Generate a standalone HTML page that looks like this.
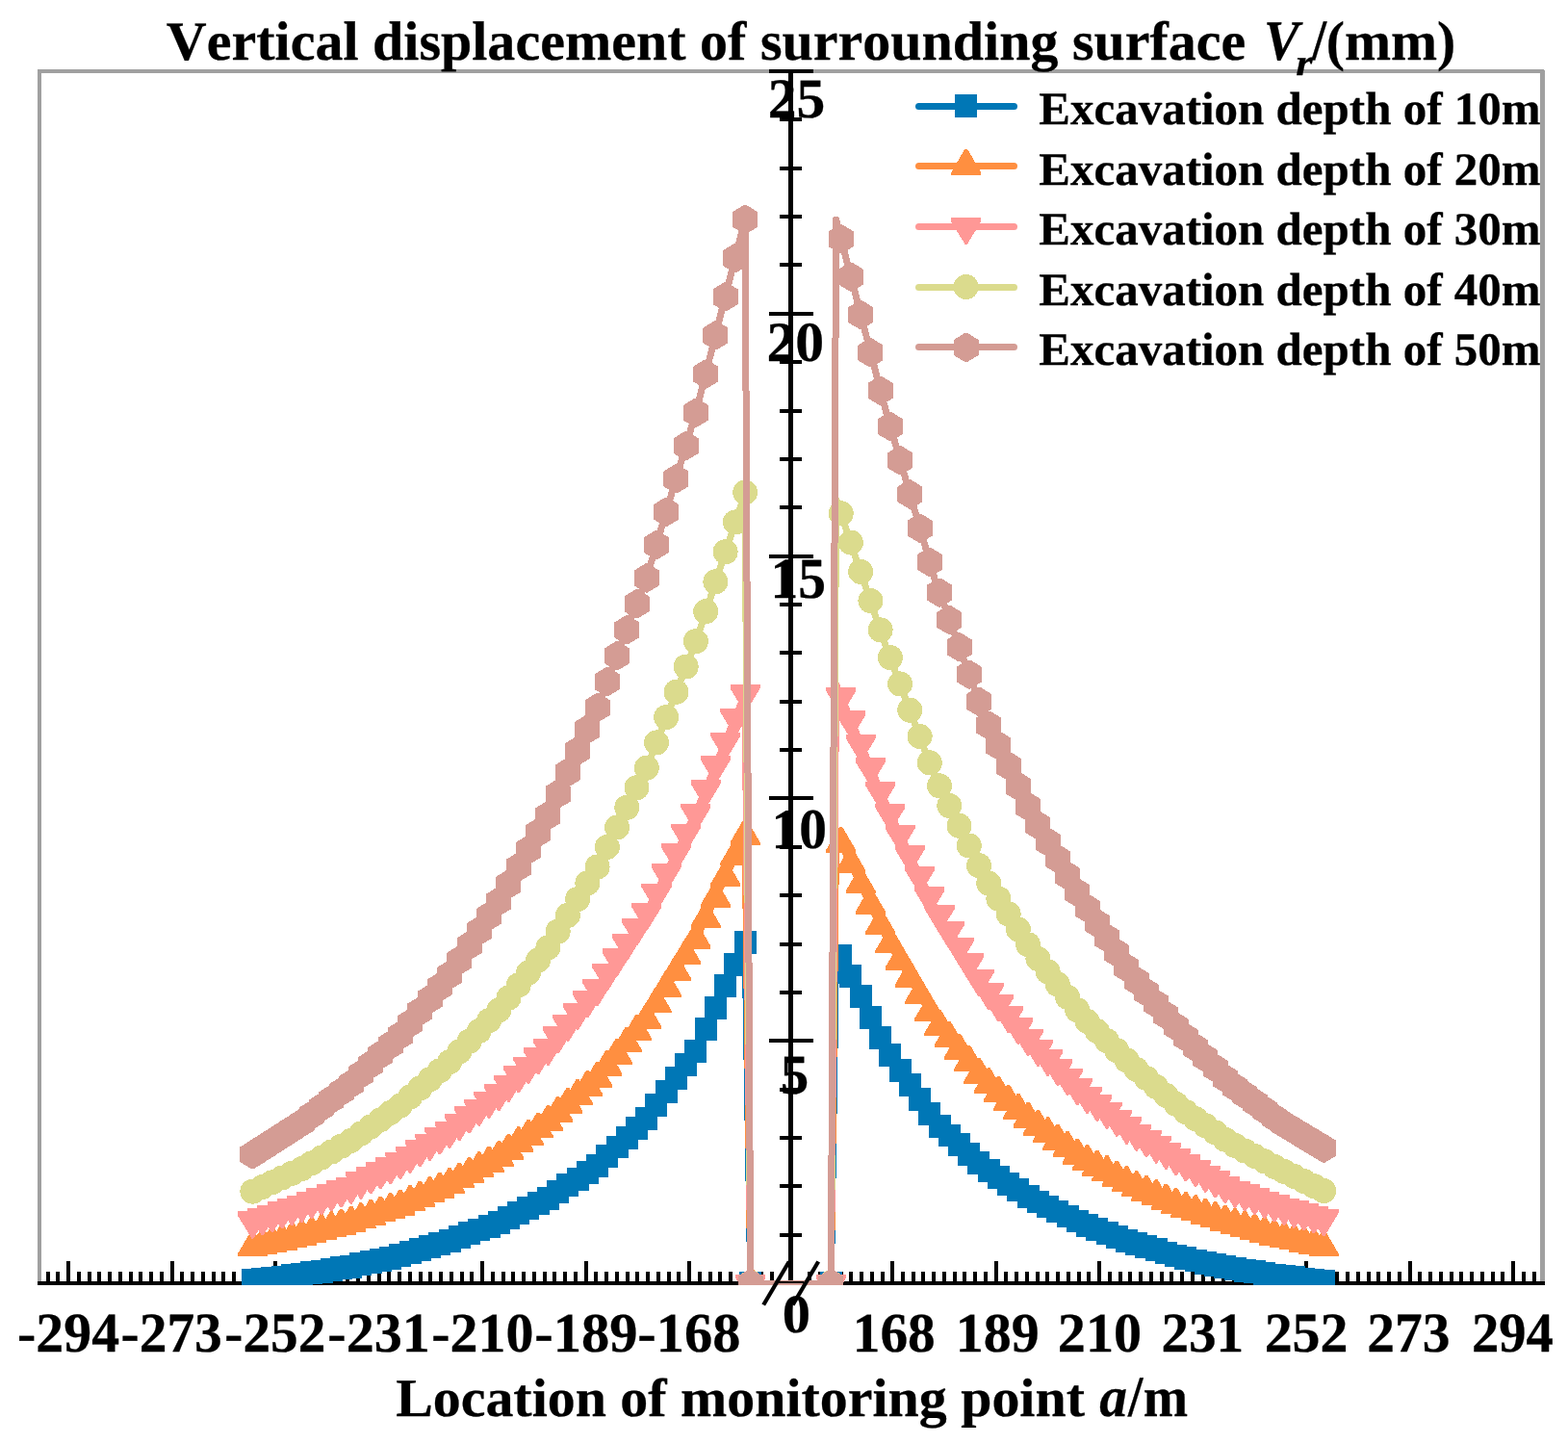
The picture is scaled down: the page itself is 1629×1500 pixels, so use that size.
<!DOCTYPE html>
<html lang="en"><head><meta charset="utf-8"><title>Vertical displacement of surrounding surface</title>
<style>html,body{margin:0;padding:0;background:#fff}body{width:1629px;height:1500px;overflow:hidden}svg{display:block}</style></head>
<body>
<svg width="1629" height="1500" viewBox="0 0 1629 1500" font-family="'Liberation Serif', 'Times New Roman', serif" shape-rendering="crispEdges">
<rect x="0" y="0" width="1629" height="1500" fill="#fff"/>
<g fill="#A0A0A0"><rect x="39" y="72" width="4" height="1262"/><rect x="39" y="72" width="1565" height="4"/><rect x="1600" y="73" width="5" height="1261"/></g>
<g fill="#000"><rect x="39" y="1331" width="770.5" height="4"/><rect x="835" y="1331" width="770" height="4"/><rect x="47.6" y="1321" width="4" height="11"/><rect x="58.3" y="1321" width="4" height="11"/><rect x="69.1" y="1310" width="4" height="22"/><rect x="79.8" y="1321" width="4" height="11"/><rect x="90.6" y="1321" width="4" height="11"/><rect x="101.3" y="1321" width="4" height="11"/><rect x="112.1" y="1321" width="4" height="11"/><rect x="122.8" y="1321" width="4" height="11"/><rect x="133.6" y="1321" width="4" height="11"/><rect x="144.3" y="1321" width="4" height="11"/><rect x="155.1" y="1321" width="4" height="11"/><rect x="165.8" y="1321" width="4" height="11"/><rect x="176.6" y="1310" width="4" height="22"/><rect x="187.3" y="1321" width="4" height="11"/><rect x="198.1" y="1321" width="4" height="11"/><rect x="208.8" y="1321" width="4" height="11"/><rect x="219.6" y="1321" width="4" height="11"/><rect x="230.3" y="1321" width="4" height="11"/><rect x="241.1" y="1321" width="4" height="11"/><rect x="251.8" y="1321" width="4" height="11"/><rect x="262.5" y="1321" width="4" height="11"/><rect x="273.3" y="1321" width="4" height="11"/><rect x="284.0" y="1310" width="4" height="22"/><rect x="294.8" y="1321" width="4" height="11"/><rect x="305.5" y="1321" width="4" height="11"/><rect x="316.3" y="1321" width="4" height="11"/><rect x="327.0" y="1321" width="4" height="11"/><rect x="337.8" y="1321" width="4" height="11"/><rect x="348.5" y="1321" width="4" height="11"/><rect x="359.3" y="1321" width="4" height="11"/><rect x="370.0" y="1321" width="4" height="11"/><rect x="380.8" y="1321" width="4" height="11"/><rect x="391.5" y="1310" width="4" height="22"/><rect x="402.3" y="1321" width="4" height="11"/><rect x="413.0" y="1321" width="4" height="11"/><rect x="423.8" y="1321" width="4" height="11"/><rect x="434.5" y="1321" width="4" height="11"/><rect x="445.3" y="1321" width="4" height="11"/><rect x="456.0" y="1321" width="4" height="11"/><rect x="466.8" y="1321" width="4" height="11"/><rect x="477.5" y="1321" width="4" height="11"/><rect x="488.3" y="1321" width="4" height="11"/><rect x="499.0" y="1310" width="4" height="22"/><rect x="509.8" y="1321" width="4" height="11"/><rect x="520.5" y="1321" width="4" height="11"/><rect x="531.3" y="1321" width="4" height="11"/><rect x="542.0" y="1321" width="4" height="11"/><rect x="552.8" y="1321" width="4" height="11"/><rect x="563.5" y="1321" width="4" height="11"/><rect x="574.3" y="1321" width="4" height="11"/><rect x="585.0" y="1321" width="4" height="11"/><rect x="595.8" y="1321" width="4" height="11"/><rect x="606.5" y="1310" width="4" height="22"/><rect x="617.3" y="1321" width="4" height="11"/><rect x="628.0" y="1321" width="4" height="11"/><rect x="638.8" y="1321" width="4" height="11"/><rect x="649.5" y="1321" width="4" height="11"/><rect x="660.3" y="1321" width="4" height="11"/><rect x="671.0" y="1321" width="4" height="11"/><rect x="681.8" y="1321" width="4" height="11"/><rect x="692.5" y="1321" width="4" height="11"/><rect x="703.3" y="1321" width="4" height="11"/><rect x="714.0" y="1310" width="4" height="22"/><rect x="724.7" y="1321" width="4" height="11"/><rect x="735.5" y="1321" width="4" height="11"/><rect x="746.2" y="1321" width="4" height="11"/><rect x="757.0" y="1321" width="4" height="11"/><rect x="767.7" y="1321" width="4" height="11"/><rect x="778.5" y="1321" width="4" height="11"/><rect x="789.2" y="1321" width="4" height="11"/><rect x="800.0" y="1321" width="4" height="11"/><rect x="1591.6" y="1321" width="4" height="11"/><rect x="1580.9" y="1321" width="4" height="11"/><rect x="1570.1" y="1310" width="4" height="22"/><rect x="1559.4" y="1321" width="4" height="11"/><rect x="1548.6" y="1321" width="4" height="11"/><rect x="1537.9" y="1321" width="4" height="11"/><rect x="1527.1" y="1321" width="4" height="11"/><rect x="1516.4" y="1321" width="4" height="11"/><rect x="1505.6" y="1321" width="4" height="11"/><rect x="1494.9" y="1321" width="4" height="11"/><rect x="1484.1" y="1321" width="4" height="11"/><rect x="1473.4" y="1321" width="4" height="11"/><rect x="1462.6" y="1310" width="4" height="22"/><rect x="1451.9" y="1321" width="4" height="11"/><rect x="1441.1" y="1321" width="4" height="11"/><rect x="1430.4" y="1321" width="4" height="11"/><rect x="1419.6" y="1321" width="4" height="11"/><rect x="1408.9" y="1321" width="4" height="11"/><rect x="1398.1" y="1321" width="4" height="11"/><rect x="1387.4" y="1321" width="4" height="11"/><rect x="1376.7" y="1321" width="4" height="11"/><rect x="1365.9" y="1321" width="4" height="11"/><rect x="1355.2" y="1310" width="4" height="22"/><rect x="1344.4" y="1321" width="4" height="11"/><rect x="1333.7" y="1321" width="4" height="11"/><rect x="1322.9" y="1321" width="4" height="11"/><rect x="1312.2" y="1321" width="4" height="11"/><rect x="1301.4" y="1321" width="4" height="11"/><rect x="1290.7" y="1321" width="4" height="11"/><rect x="1279.9" y="1321" width="4" height="11"/><rect x="1269.2" y="1321" width="4" height="11"/><rect x="1258.4" y="1321" width="4" height="11"/><rect x="1247.7" y="1310" width="4" height="22"/><rect x="1236.9" y="1321" width="4" height="11"/><rect x="1226.2" y="1321" width="4" height="11"/><rect x="1215.4" y="1321" width="4" height="11"/><rect x="1204.7" y="1321" width="4" height="11"/><rect x="1193.9" y="1321" width="4" height="11"/><rect x="1183.2" y="1321" width="4" height="11"/><rect x="1172.4" y="1321" width="4" height="11"/><rect x="1161.7" y="1321" width="4" height="11"/><rect x="1150.9" y="1321" width="4" height="11"/><rect x="1140.2" y="1310" width="4" height="22"/><rect x="1129.4" y="1321" width="4" height="11"/><rect x="1118.7" y="1321" width="4" height="11"/><rect x="1107.9" y="1321" width="4" height="11"/><rect x="1097.2" y="1321" width="4" height="11"/><rect x="1086.4" y="1321" width="4" height="11"/><rect x="1075.7" y="1321" width="4" height="11"/><rect x="1064.9" y="1321" width="4" height="11"/><rect x="1054.2" y="1321" width="4" height="11"/><rect x="1043.4" y="1321" width="4" height="11"/><rect x="1032.7" y="1310" width="4" height="22"/><rect x="1021.9" y="1321" width="4" height="11"/><rect x="1011.2" y="1321" width="4" height="11"/><rect x="1000.4" y="1321" width="4" height="11"/><rect x="989.7" y="1321" width="4" height="11"/><rect x="978.9" y="1321" width="4" height="11"/><rect x="968.2" y="1321" width="4" height="11"/><rect x="957.4" y="1321" width="4" height="11"/><rect x="946.7" y="1321" width="4" height="11"/><rect x="935.9" y="1321" width="4" height="11"/><rect x="925.2" y="1310" width="4" height="22"/><rect x="914.5" y="1321" width="4" height="11"/><rect x="903.7" y="1321" width="4" height="11"/><rect x="893.0" y="1321" width="4" height="11"/><rect x="882.2" y="1321" width="4" height="11"/><rect x="871.5" y="1321" width="4" height="11"/><rect x="860.7" y="1321" width="4" height="11"/><rect x="850.0" y="1321" width="4" height="11"/><rect x="839.2" y="1321" width="4" height="11"/><rect x="819.4" y="72" width="4.6" height="1262"/><rect x="798.7" y="1331.0" width="46" height="4"/><rect x="810.2" y="1280.6" width="23" height="4"/><rect x="810.2" y="1230.3" width="23" height="4"/><rect x="810.2" y="1179.9" width="23" height="4"/><rect x="810.2" y="1129.6" width="23" height="4"/><rect x="798.7" y="1079.2" width="46" height="4"/><rect x="810.2" y="1028.8" width="23" height="4"/><rect x="810.2" y="978.5" width="23" height="4"/><rect x="810.2" y="928.1" width="23" height="4"/><rect x="810.2" y="877.8" width="23" height="4"/><rect x="798.7" y="827.4" width="46" height="4"/><rect x="810.2" y="777.0" width="23" height="4"/><rect x="810.2" y="726.7" width="23" height="4"/><rect x="810.2" y="676.3" width="23" height="4"/><rect x="810.2" y="626.0" width="23" height="4"/><rect x="798.7" y="575.6" width="46" height="4"/><rect x="810.2" y="525.2" width="23" height="4"/><rect x="810.2" y="474.9" width="23" height="4"/><rect x="810.2" y="424.5" width="23" height="4"/><rect x="810.2" y="374.2" width="23" height="4"/><rect x="798.7" y="323.8" width="46" height="4"/><rect x="810.2" y="273.4" width="23" height="4"/><rect x="810.2" y="223.1" width="23" height="4"/><rect x="810.2" y="172.7" width="23" height="4"/><rect x="810.2" y="122.4" width="23" height="4"/><rect x="798.7" y="72.0" width="46" height="4"/></g>
<svg x="39" y="72" width="1566" height="1263" viewBox="39 72 1566 1263" overflow="hidden">
<g fill="#0077B6">
<polyline points="262.4,1331.0 272.6,1329.7 282.9,1328.4 293.1,1327.1 303.3,1325.9 313.6,1324.6 323.8,1322.9 334.0,1321.2 344.3,1319.5 354.5,1317.8 364.7,1316.1 375.0,1313.9 385.2,1311.6 395.4,1309.4 405.7,1307.1 415.9,1304.9 426.1,1301.8 436.4,1298.7 446.6,1295.7 456.8,1292.6 467.1,1289.5 477.3,1285.7 487.5,1281.9 497.8,1278.0 508.0,1274.2 518.2,1270.4 528.5,1265.4 538.7,1260.4 549.0,1255.4 559.2,1250.4 569.4,1245.4 579.7,1238.7 589.9,1231.9 600.1,1225.2 610.4,1218.4 620.6,1211.7 630.8,1201.9 641.1,1192.1 651.3,1182.2 661.5,1172.4 671.8,1162.6 682.0,1148.5 692.2,1134.4 702.5,1120.4 712.7,1106.3 722.9,1092.2 733.2,1069.7 743.4,1047.2 753.6,1024.6 763.9,1002.1 774.1,979.6 779.7,1333.0 863.4,1333.0 868.6,982.6 873.7,993.3 883.9,1014.6 894.2,1035.9 904.4,1057.2 914.6,1078.5 919.8,1089.2 924.9,1096.8 935.1,1112.1 945.3,1127.4 955.6,1142.7 965.8,1158.0 970.9,1165.6 976.0,1170.4 986.3,1180.0 996.5,1189.7 1006.7,1199.3 1017.0,1208.9 1022.1,1213.7 1027.2,1217.0 1037.4,1223.5 1047.7,1230.1 1057.9,1236.7 1068.1,1243.2 1073.3,1246.5 1078.4,1249.0 1088.6,1254.0 1098.8,1259.0 1109.1,1264.1 1119.3,1269.1 1124.4,1271.6 1129.5,1273.6 1139.8,1277.5 1150.0,1281.4 1160.3,1285.4 1170.5,1289.3 1175.6,1291.3 1180.7,1292.8 1191.0,1295.9 1201.2,1298.9 1211.4,1302.0 1221.7,1305.1 1226.8,1306.6 1231.9,1307.7 1242.1,1310.0 1252.4,1312.3 1262.6,1314.6 1272.8,1316.9 1277.9,1318.0 1283.1,1318.8 1293.3,1320.4 1303.5,1322.0 1313.8,1323.5 1324.0,1325.1 1329.1,1325.9 1334.2,1326.5 1344.5,1327.8 1354.7,1329.1 1364.9,1330.3 1375.2,1331.6 1380.3,1332.2" fill="none" stroke="#0077B6" stroke-width="7" stroke-linejoin="round"/>
<path d="M250.90 1318.45L273.90 1318.45L273.90 1342.35L250.90 1342.35zM261.13 1317.18L284.13 1317.18L284.13 1341.08L261.13 1341.08zM271.37 1315.91L294.37 1315.91L294.37 1339.81L271.37 1339.81zM281.60 1314.64L304.60 1314.64L304.60 1338.54L281.60 1338.54zM291.84 1313.37L314.84 1313.37L314.84 1337.27L291.84 1337.27zM302.07 1312.10L325.07 1312.10L325.07 1336.00L302.07 1336.00zM312.30 1310.40L335.30 1310.40L335.30 1334.30L312.30 1334.30zM322.54 1308.70L345.54 1308.70L345.54 1332.60L322.54 1332.60zM332.77 1307.00L355.77 1307.00L355.77 1330.90L332.77 1330.90zM343.01 1305.30L366.01 1305.30L366.01 1329.20L343.01 1329.20zM353.24 1303.60L376.24 1303.60L376.24 1327.50L353.24 1327.50zM363.47 1301.36L386.47 1301.36L386.47 1325.26L363.47 1325.26zM373.71 1299.12L396.71 1299.12L396.71 1323.02L373.71 1323.02zM383.94 1296.88L406.94 1296.88L406.94 1320.78L383.94 1320.78zM394.18 1294.64L417.18 1294.64L417.18 1318.54L394.18 1318.54zM404.41 1292.40L427.41 1292.40L427.41 1316.30L404.41 1316.30zM414.64 1289.32L437.64 1289.32L437.64 1313.22L414.64 1313.22zM424.88 1286.24L447.88 1286.24L447.88 1310.14L424.88 1310.14zM435.11 1283.16L458.11 1283.16L458.11 1307.06L435.11 1307.06zM445.35 1280.08L468.35 1280.08L468.35 1303.98L445.35 1303.98zM455.58 1277.00L478.58 1277.00L478.58 1300.90L455.58 1300.90zM465.81 1273.18L488.81 1273.18L488.81 1297.08L465.81 1297.08zM476.05 1269.36L499.05 1269.36L499.05 1293.26L476.05 1293.26zM486.28 1265.54L509.28 1265.54L509.28 1289.44L486.28 1289.44zM496.52 1261.72L519.52 1261.72L519.52 1285.62L496.52 1285.62zM506.75 1257.90L529.75 1257.90L529.75 1281.80L506.75 1281.80zM516.98 1252.90L539.98 1252.90L539.98 1276.80L516.98 1276.80zM527.22 1247.90L550.22 1247.90L550.22 1271.80L527.22 1271.80zM537.45 1242.90L560.45 1242.90L560.45 1266.80L537.45 1266.80zM547.69 1237.90L570.69 1237.90L570.69 1261.80L547.69 1261.80zM557.92 1232.90L580.92 1232.90L580.92 1256.80L557.92 1256.80zM568.15 1226.16L591.15 1226.16L591.15 1250.06L568.15 1250.06zM578.39 1219.42L601.39 1219.42L601.39 1243.32L578.39 1243.32zM588.62 1212.68L611.62 1212.68L611.62 1236.58L588.62 1236.58zM598.86 1205.94L621.86 1205.94L621.86 1229.84L598.86 1229.84zM609.09 1199.20L632.09 1199.20L632.09 1223.10L609.09 1223.10zM619.32 1189.38L642.32 1189.38L642.32 1213.28L619.32 1213.28zM629.56 1179.56L652.56 1179.56L652.56 1203.46L629.56 1203.46zM639.79 1169.74L662.79 1169.74L662.79 1193.64L639.79 1193.64zM650.03 1159.92L673.03 1159.92L673.03 1183.82L650.03 1183.82zM660.26 1150.10L683.26 1150.10L683.26 1174.00L660.26 1174.00zM670.49 1136.02L693.49 1136.02L693.49 1159.92L670.49 1159.92zM680.73 1121.94L703.73 1121.94L703.73 1145.84L680.73 1145.84zM690.96 1107.86L713.96 1107.86L713.96 1131.76L690.96 1131.76zM701.20 1093.78L724.20 1093.78L724.20 1117.68L701.20 1117.68zM711.43 1079.70L734.43 1079.70L734.43 1103.60L711.43 1103.60zM721.66 1057.18L744.66 1057.18L744.66 1081.08L721.66 1081.08zM731.90 1034.66L754.90 1034.66L754.90 1058.56L731.90 1058.56zM742.13 1012.14L765.13 1012.14L765.13 1036.04L742.13 1036.04zM752.37 989.62L775.37 989.62L775.37 1013.52L752.37 1013.52zM762.60 967.10L785.60 967.10L785.60 991.00L762.60 991.00zM768.20 1320.50L791.20 1320.50L791.20 1344.40L768.20 1344.40zM851.90 1320.50L874.90 1320.50L874.90 1344.40L851.90 1344.40zM862.20 980.76L885.20 980.76L885.20 1004.66L862.20 1004.66zM872.43 1002.08L895.43 1002.08L895.43 1025.98L872.43 1025.98zM882.67 1023.40L905.67 1023.40L905.67 1047.30L882.67 1047.30zM892.90 1044.72L915.90 1044.72L915.90 1068.62L892.90 1068.62zM903.14 1066.04L926.14 1066.04L926.14 1089.94L903.14 1089.94zM913.37 1084.34L936.37 1084.34L936.37 1108.24L913.37 1108.24zM923.60 1099.62L946.60 1099.62L946.60 1123.52L923.60 1123.52zM933.84 1114.90L956.84 1114.90L956.84 1138.80L933.84 1138.80zM944.07 1130.18L967.07 1130.18L967.07 1154.08L944.07 1154.08zM954.31 1145.46L977.31 1145.46L977.31 1169.36L954.31 1169.36zM964.54 1157.91L987.54 1157.91L987.54 1181.81L964.54 1181.81zM974.77 1167.53L997.77 1167.53L997.77 1191.43L974.77 1191.43zM985.01 1177.15L1008.01 1177.15L1008.01 1201.05L985.01 1201.05zM995.24 1186.77L1018.24 1186.77L1018.24 1210.67L995.24 1210.67zM1005.48 1196.39L1028.48 1196.39L1028.48 1220.29L1005.48 1220.29zM1015.71 1204.48L1038.71 1204.48L1038.71 1228.38L1015.71 1228.38zM1025.94 1211.04L1048.94 1211.04L1048.94 1234.94L1025.94 1234.94zM1036.18 1217.60L1059.18 1217.60L1059.18 1241.50L1036.18 1241.50zM1046.41 1224.16L1069.41 1224.16L1069.41 1248.06L1046.41 1248.06zM1056.65 1230.72L1079.65 1230.72L1079.65 1254.62L1056.65 1254.62zM1066.88 1236.51L1089.88 1236.51L1089.88 1260.41L1066.88 1260.41zM1077.11 1241.53L1100.11 1241.53L1100.11 1265.43L1077.11 1265.43zM1087.35 1246.55L1110.35 1246.55L1110.35 1270.45L1087.35 1270.45zM1097.58 1251.57L1120.58 1251.57L1120.58 1275.47L1097.58 1275.47zM1107.82 1256.59L1130.82 1256.59L1130.82 1280.49L1107.82 1280.49zM1118.05 1261.07L1141.05 1261.07L1141.05 1284.97L1118.05 1284.97zM1128.28 1265.01L1151.28 1265.01L1151.28 1288.91L1128.28 1288.91zM1138.52 1268.95L1161.52 1268.95L1161.52 1292.85L1138.52 1292.85zM1148.75 1272.89L1171.75 1272.89L1171.75 1296.79L1148.75 1296.79zM1158.99 1276.83L1181.99 1276.83L1181.99 1300.73L1158.99 1300.73zM1169.22 1280.33L1192.22 1280.33L1192.22 1304.23L1169.22 1304.23zM1179.45 1283.39L1202.45 1283.39L1202.45 1307.29L1179.45 1307.29zM1189.69 1286.45L1212.69 1286.45L1212.69 1310.35L1189.69 1310.35zM1199.92 1289.51L1222.92 1289.51L1222.92 1313.41L1199.92 1313.41zM1210.16 1292.57L1233.16 1292.57L1233.16 1316.47L1210.16 1316.47zM1220.39 1295.24L1243.39 1295.24L1243.39 1319.14L1220.39 1319.14zM1230.62 1297.52L1253.62 1297.52L1253.62 1321.42L1230.62 1321.42zM1240.86 1299.80L1263.86 1299.80L1263.86 1323.70L1240.86 1323.70zM1251.09 1302.08L1274.09 1302.08L1274.09 1325.98L1251.09 1325.98zM1261.33 1304.36L1284.33 1304.36L1284.33 1328.26L1261.33 1328.26zM1271.56 1306.29L1294.56 1306.29L1294.56 1330.19L1271.56 1330.19zM1281.79 1307.87L1304.79 1307.87L1304.79 1331.77L1281.79 1331.77zM1292.03 1309.45L1315.03 1309.45L1315.03 1333.35L1292.03 1333.35zM1302.26 1311.03L1325.26 1311.03L1325.26 1334.93L1302.26 1334.93zM1312.50 1312.61L1335.50 1312.61L1335.50 1336.51L1312.50 1336.51zM1322.73 1314.03L1345.73 1314.03L1345.73 1337.93L1322.73 1337.93zM1332.96 1315.29L1355.96 1315.29L1355.96 1339.19L1332.96 1339.19zM1343.20 1316.55L1366.20 1316.55L1366.20 1340.45L1343.20 1340.45zM1353.43 1317.81L1376.43 1317.81L1376.43 1341.71L1353.43 1341.71zM1363.67 1319.07L1386.67 1319.07L1386.67 1342.97L1363.67 1342.97z"/>
</g>
<g fill="#FF8F40">
<polyline points="262.4,1296.0 272.6,1293.7 282.9,1291.4 293.1,1289.2 303.3,1286.9 313.6,1284.6 323.8,1281.8 334.0,1278.9 344.3,1276.1 354.5,1273.2 364.7,1270.4 375.0,1267.0 385.2,1263.6 395.4,1260.1 405.7,1256.7 415.9,1253.3 426.1,1248.8 436.4,1244.3 446.6,1239.7 456.8,1235.2 467.1,1230.7 477.3,1225.1 487.5,1219.5 497.8,1213.9 508.0,1208.3 518.2,1202.7 528.5,1195.3 538.7,1187.9 549.0,1180.5 559.2,1173.1 569.4,1165.7 579.7,1156.7 589.9,1147.7 600.1,1138.6 610.4,1129.6 620.6,1120.6 630.8,1108.4 641.1,1096.3 651.3,1084.1 661.5,1072.0 671.8,1059.8 682.0,1043.1 692.2,1026.4 702.5,1009.8 712.7,993.1 722.9,976.4 733.2,954.8 743.4,933.2 753.6,911.6 763.9,890.0 774.1,868.4 779.7,1333.0 863.4,1333.0 868.6,865.9 873.7,876.5 883.9,897.8 894.2,919.1 904.4,940.3 914.6,961.6 919.8,972.2 924.9,981.0 935.1,998.6 945.3,1016.2 955.6,1033.8 965.8,1051.4 970.9,1060.2 976.0,1066.4 986.3,1078.9 996.5,1091.3 1006.7,1103.8 1017.0,1116.3 1022.1,1122.5 1027.2,1126.9 1037.4,1135.8 1047.7,1144.7 1057.9,1153.6 1068.1,1162.5 1073.3,1166.9 1078.4,1170.6 1088.6,1178.0 1098.8,1185.4 1109.1,1192.9 1119.3,1200.3 1124.4,1204.0 1129.5,1206.8 1139.8,1212.3 1150.0,1217.9 1160.3,1223.5 1170.5,1229.0 1175.6,1231.8 1180.7,1234.0 1191.0,1238.4 1201.2,1242.8 1211.4,1247.3 1221.7,1251.7 1226.8,1253.9 1231.9,1255.6 1242.1,1259.0 1252.4,1262.4 1262.6,1265.8 1272.8,1269.2 1277.9,1270.9 1283.1,1272.4 1293.3,1275.4 1303.5,1278.3 1313.8,1281.3 1324.0,1284.3 1329.1,1285.8 1334.2,1286.9 1344.5,1289.1 1354.7,1291.3 1364.9,1293.6 1375.2,1295.8 1380.3,1296.9" fill="none" stroke="#FF8F40" stroke-width="7" stroke-linejoin="round"/>
<path d="M260.95 1278.40L263.85 1278.40L277.95 1302.55L277.95 1305.35L246.85 1305.35L246.85 1302.55zM271.18 1276.12L274.08 1276.12L288.18 1300.27L288.18 1303.07L257.08 1303.07L257.08 1300.27zM281.42 1273.84L284.32 1273.84L298.42 1297.99L298.42 1300.79L267.32 1300.79L267.32 1297.99zM291.65 1271.56L294.55 1271.56L308.65 1295.71L308.65 1298.51L277.55 1298.51L277.55 1295.71zM301.89 1269.28L304.79 1269.28L318.89 1293.43L318.89 1296.23L287.79 1296.23L287.79 1293.43zM312.12 1267.00L315.02 1267.00L329.12 1291.15L329.12 1293.95L298.02 1293.95L298.02 1291.15zM322.35 1264.16L325.25 1264.16L339.35 1288.31L339.35 1291.11L308.25 1291.11L308.25 1288.31zM332.59 1261.32L335.49 1261.32L349.59 1285.47L349.59 1288.27L318.49 1288.27L318.49 1285.47zM342.82 1258.48L345.72 1258.48L359.82 1282.63L359.82 1285.43L328.72 1285.43L328.72 1282.63zM353.06 1255.64L355.96 1255.64L370.06 1279.79L370.06 1282.59L338.96 1282.59L338.96 1279.79zM363.29 1252.80L366.19 1252.80L380.29 1276.95L380.29 1279.75L349.19 1279.75L349.19 1276.95zM373.52 1249.38L376.42 1249.38L390.52 1273.53L390.52 1276.33L359.42 1276.33L359.42 1273.53zM383.76 1245.96L386.66 1245.96L400.76 1270.11L400.76 1272.91L369.66 1272.91L369.66 1270.11zM393.99 1242.54L396.89 1242.54L410.99 1266.69L410.99 1269.49L379.89 1269.49L379.89 1266.69zM404.23 1239.12L407.13 1239.12L421.23 1263.27L421.23 1266.07L390.13 1266.07L390.13 1263.27zM414.46 1235.70L417.36 1235.70L431.46 1259.85L431.46 1262.65L400.36 1262.65L400.36 1259.85zM424.69 1231.18L427.59 1231.18L441.69 1255.33L441.69 1258.13L410.59 1258.13L410.59 1255.33zM434.93 1226.66L437.83 1226.66L451.93 1250.81L451.93 1253.61L420.83 1253.61L420.83 1250.81zM445.16 1222.14L448.06 1222.14L462.16 1246.29L462.16 1249.09L431.06 1249.09L431.06 1246.29zM455.40 1217.62L458.30 1217.62L472.40 1241.77L472.40 1244.57L441.30 1244.57L441.30 1241.77zM465.63 1213.10L468.53 1213.10L482.63 1237.25L482.63 1240.05L451.53 1240.05L451.53 1237.25zM475.86 1207.50L478.76 1207.50L492.86 1231.65L492.86 1234.45L461.76 1234.45L461.76 1231.65zM486.10 1201.90L489.00 1201.90L503.10 1226.05L503.10 1228.85L472.00 1228.85L472.00 1226.05zM496.33 1196.30L499.23 1196.30L513.33 1220.45L513.33 1223.25L482.23 1223.25L482.23 1220.45zM506.57 1190.70L509.47 1190.70L523.57 1214.85L523.57 1217.65L492.47 1217.65L492.47 1214.85zM516.80 1185.10L519.70 1185.10L533.80 1209.25L533.80 1212.05L502.70 1212.05L502.70 1209.25zM527.03 1177.70L529.93 1177.70L544.03 1201.85L544.03 1204.65L512.93 1204.65L512.93 1201.85zM537.27 1170.30L540.17 1170.30L554.27 1194.45L554.27 1197.25L523.17 1197.25L523.17 1194.45zM547.50 1162.90L550.40 1162.90L564.50 1187.05L564.50 1189.85L533.40 1189.85L533.40 1187.05zM557.74 1155.50L560.64 1155.50L574.74 1179.65L574.74 1182.45L543.64 1182.45L543.64 1179.65zM567.97 1148.10L570.87 1148.10L584.97 1172.25L584.97 1175.05L553.87 1175.05L553.87 1172.25zM578.20 1139.08L581.10 1139.08L595.20 1163.23L595.20 1166.03L564.10 1166.03L564.10 1163.23zM588.44 1130.06L591.34 1130.06L605.44 1154.21L605.44 1157.01L574.34 1157.01L574.34 1154.21zM598.67 1121.04L601.57 1121.04L615.67 1145.19L615.67 1147.99L584.57 1147.99L584.57 1145.19zM608.91 1112.02L611.81 1112.02L625.91 1136.17L625.91 1138.97L594.81 1138.97L594.81 1136.17zM619.14 1103.00L622.04 1103.00L636.14 1127.15L636.14 1129.95L605.04 1129.95L605.04 1127.15zM629.37 1090.84L632.27 1090.84L646.37 1114.99L646.37 1117.79L615.27 1117.79L615.27 1114.99zM639.61 1078.68L642.51 1078.68L656.61 1102.83L656.61 1105.63L625.51 1105.63L625.51 1102.83zM649.84 1066.52L652.74 1066.52L666.84 1090.67L666.84 1093.47L635.74 1093.47L635.74 1090.67zM660.08 1054.36L662.98 1054.36L677.08 1078.51L677.08 1081.31L645.98 1081.31L645.98 1078.51zM670.31 1042.20L673.21 1042.20L687.31 1066.35L687.31 1069.15L656.21 1069.15L656.21 1066.35zM680.54 1025.52L683.44 1025.52L697.54 1049.67L697.54 1052.47L666.44 1052.47L666.44 1049.67zM690.78 1008.84L693.68 1008.84L707.78 1032.99L707.78 1035.79L676.68 1035.79L676.68 1032.99zM701.01 992.16L703.91 992.16L718.01 1016.31L718.01 1019.11L686.91 1019.11L686.91 1016.31zM711.25 975.48L714.15 975.48L728.25 999.63L728.25 1002.43L697.15 1002.43L697.15 999.63zM721.48 958.80L724.38 958.80L738.48 982.95L738.48 985.75L707.38 985.75L707.38 982.95zM731.71 937.20L734.61 937.20L748.71 961.35L748.71 964.15L717.61 964.15L717.61 961.35zM741.95 915.60L744.85 915.60L758.95 939.75L758.95 942.55L727.85 942.55L727.85 939.75zM752.18 894.00L755.08 894.00L769.18 918.15L769.18 920.95L738.08 920.95L738.08 918.15zM762.42 872.40L765.32 872.40L779.42 896.55L779.42 899.35L748.32 899.35L748.32 896.55zM772.65 850.80L775.55 850.80L789.65 874.95L789.65 877.75L758.55 877.75L758.55 874.95zM778.25 1315.40L781.15 1315.40L795.25 1339.55L795.25 1342.35L764.15 1342.35L764.15 1339.55zM861.95 1315.40L864.85 1315.40L878.95 1339.55L878.95 1342.35L847.85 1342.35L847.85 1339.55zM872.25 858.93L875.15 858.93L889.25 883.08L889.25 885.88L858.15 885.88L858.15 883.08zM882.48 880.19L885.38 880.19L899.48 904.34L899.48 907.14L868.38 907.14L868.38 904.34zM892.72 901.45L895.62 901.45L909.72 925.60L909.72 928.40L878.62 928.40L878.62 925.60zM902.95 922.71L905.85 922.71L919.95 946.86L919.95 949.66L888.85 949.66L888.85 946.86zM913.19 943.97L916.09 943.97L930.19 968.12L930.19 970.92L899.09 970.92L899.09 968.12zM923.42 963.40L926.32 963.40L940.42 987.55L940.42 990.35L909.32 990.35L909.32 987.55zM933.65 981.00L936.55 981.00L950.65 1005.15L950.65 1007.95L919.55 1007.95L919.55 1005.15zM943.89 998.60L946.79 998.60L960.89 1022.75L960.89 1025.55L929.79 1025.55L929.79 1022.75zM954.12 1016.20L957.02 1016.20L971.12 1040.35L971.12 1043.15L940.02 1043.15L940.02 1040.35zM964.36 1033.80L967.26 1033.80L981.36 1057.95L981.36 1060.75L950.26 1060.75L950.26 1057.95zM974.59 1048.83L977.49 1048.83L991.59 1072.98L991.59 1075.78L960.49 1075.78L960.49 1072.98zM984.82 1061.29L987.72 1061.29L1001.82 1085.44L1001.82 1088.24L970.72 1088.24L970.72 1085.44zM995.06 1073.75L997.96 1073.75L1012.06 1097.90L1012.06 1100.70L980.96 1100.70L980.96 1097.90zM1005.29 1086.21L1008.19 1086.21L1022.29 1110.36L1022.29 1113.16L991.19 1113.16L991.19 1110.36zM1015.53 1098.67L1018.43 1098.67L1032.53 1122.82L1032.53 1125.62L1001.43 1125.62L1001.43 1122.82zM1025.76 1109.34L1028.66 1109.34L1042.76 1133.49L1042.76 1136.29L1011.66 1136.29L1011.66 1133.49zM1035.99 1118.22L1038.89 1118.22L1052.99 1142.37L1052.99 1145.17L1021.89 1145.17L1021.89 1142.37zM1046.23 1127.10L1049.13 1127.10L1063.23 1151.25L1063.23 1154.05L1032.13 1154.05L1032.13 1151.25zM1056.46 1135.98L1059.36 1135.98L1073.46 1160.13L1073.46 1162.93L1042.36 1162.93L1042.36 1160.13zM1066.70 1144.86L1069.60 1144.86L1083.70 1169.01L1083.70 1171.81L1052.60 1171.81L1052.60 1169.01zM1076.93 1153.01L1079.83 1153.01L1093.93 1177.16L1093.93 1179.96L1062.83 1179.96L1062.83 1177.16zM1087.16 1160.43L1090.06 1160.43L1104.16 1184.58L1104.16 1187.38L1073.06 1187.38L1073.06 1184.58zM1097.40 1167.85L1100.30 1167.85L1114.40 1192.00L1114.40 1194.80L1083.30 1194.80L1083.30 1192.00zM1107.63 1175.27L1110.53 1175.27L1124.63 1199.42L1124.63 1202.22L1093.53 1202.22L1093.53 1199.42zM1117.87 1182.69L1120.77 1182.69L1134.87 1206.84L1134.87 1209.64L1103.77 1209.64L1103.77 1206.84zM1128.10 1189.18L1131.00 1189.18L1145.10 1213.33L1145.10 1216.13L1114.00 1216.13L1114.00 1213.33zM1138.33 1194.74L1141.23 1194.74L1155.33 1218.89L1155.33 1221.69L1124.23 1221.69L1124.23 1218.89zM1148.57 1200.30L1151.47 1200.30L1165.57 1224.45L1165.57 1227.25L1134.47 1227.25L1134.47 1224.45zM1158.80 1205.86L1161.70 1205.86L1175.80 1230.01L1175.80 1232.81L1144.70 1232.81L1144.70 1230.01zM1169.04 1211.42L1171.94 1211.42L1186.04 1235.57L1186.04 1238.37L1154.94 1238.37L1154.94 1235.57zM1179.27 1216.41L1182.17 1216.41L1196.27 1240.56L1196.27 1243.36L1165.17 1243.36L1165.17 1240.56zM1189.50 1220.83L1192.40 1220.83L1206.50 1244.98L1206.50 1247.78L1175.40 1247.78L1175.40 1244.98zM1199.74 1225.25L1202.64 1225.25L1216.74 1249.40L1216.74 1252.20L1185.64 1252.20L1185.64 1249.40zM1209.97 1229.67L1212.87 1229.67L1226.97 1253.82L1226.97 1256.62L1195.87 1256.62L1195.87 1253.82zM1220.21 1234.09L1223.11 1234.09L1237.21 1258.24L1237.21 1261.04L1206.11 1261.04L1206.11 1258.24zM1230.44 1238.00L1233.34 1238.00L1247.44 1262.15L1247.44 1264.95L1216.34 1264.95L1216.34 1262.15zM1240.67 1241.40L1243.57 1241.40L1257.67 1265.55L1257.67 1268.35L1226.57 1268.35L1226.57 1265.55zM1250.91 1244.80L1253.81 1244.80L1267.91 1268.95L1267.91 1271.75L1236.81 1271.75L1236.81 1268.95zM1261.14 1248.20L1264.04 1248.20L1278.14 1272.35L1278.14 1275.15L1247.04 1275.15L1247.04 1272.35zM1271.38 1251.60L1274.28 1251.60L1288.38 1275.75L1288.38 1278.55L1257.28 1278.55L1257.28 1275.75zM1281.61 1254.79L1284.51 1254.79L1298.61 1278.94L1298.61 1281.74L1267.51 1281.74L1267.51 1278.94zM1291.84 1257.77L1294.74 1257.77L1308.84 1281.92L1308.84 1284.72L1277.74 1284.72L1277.74 1281.92zM1302.08 1260.75L1304.98 1260.75L1319.08 1284.90L1319.08 1287.70L1287.98 1287.70L1287.98 1284.90zM1312.31 1263.73L1315.21 1263.73L1329.31 1287.88L1329.31 1290.68L1298.21 1290.68L1298.21 1287.88zM1322.55 1266.71L1325.45 1266.71L1339.55 1290.86L1339.55 1293.66L1308.45 1293.66L1308.45 1290.86zM1332.78 1269.31L1335.68 1269.31L1349.78 1293.46L1349.78 1296.26L1318.68 1296.26L1318.68 1293.46zM1343.01 1271.53L1345.91 1271.53L1360.01 1295.68L1360.01 1298.48L1328.91 1298.48L1328.91 1295.68zM1353.25 1273.75L1356.15 1273.75L1370.25 1297.90L1370.25 1300.70L1339.15 1300.70L1339.15 1297.90zM1363.48 1275.97L1366.38 1275.97L1380.48 1300.12L1380.48 1302.92L1349.38 1302.92L1349.38 1300.12zM1373.72 1278.19L1376.62 1278.19L1390.72 1302.34L1390.72 1305.14L1359.62 1305.14L1359.62 1302.34z"/>
</g>
<g fill="#FF9896">
<polyline points="262.4,1268.0 272.6,1264.6 282.9,1261.2 293.1,1257.9 303.3,1254.5 313.6,1251.1 323.8,1247.3 334.0,1243.5 344.3,1239.7 354.5,1235.9 364.7,1232.0 375.0,1226.9 385.2,1221.8 395.4,1216.7 405.7,1211.6 415.9,1206.5 426.1,1200.0 436.4,1193.6 446.6,1187.1 456.8,1180.7 467.1,1174.2 477.3,1166.5 487.5,1158.8 497.8,1151.0 508.0,1143.3 518.2,1135.5 528.5,1126.1 538.7,1116.6 549.0,1107.1 559.2,1097.6 569.4,1088.1 579.7,1075.8 589.9,1063.4 600.1,1051.1 610.4,1038.7 620.6,1026.3 630.8,1010.6 641.1,994.9 651.3,979.2 661.5,963.5 671.8,947.8 682.0,927.1 692.2,906.4 702.5,885.7 712.7,865.0 722.9,844.3 733.2,819.6 743.4,794.8 753.6,770.1 763.9,745.3 774.1,720.5 779.7,1333.0 863.4,1333.0 868.6,711.0 873.7,723.3 883.9,747.9 894.2,772.4 904.4,796.9 914.6,821.5 919.8,833.8 924.9,844.5 935.1,866.1 945.3,887.7 955.6,909.3 965.8,930.9 970.9,941.6 976.0,949.9 986.3,966.5 996.5,983.1 1006.7,999.7 1017.0,1016.3 1022.1,1024.5 1027.2,1030.5 1037.4,1042.5 1047.7,1054.4 1057.9,1066.3 1068.1,1078.3 1073.3,1084.2 1078.4,1089.3 1088.6,1099.3 1098.8,1109.3 1109.1,1119.3 1119.3,1129.3 1124.4,1134.3 1129.5,1138.3 1139.8,1146.2 1150.0,1154.1 1160.3,1162.1 1170.5,1170.0 1175.6,1174.0 1180.7,1177.2 1191.0,1183.5 1201.2,1190.0 1211.4,1196.4 1221.7,1202.8 1226.8,1206.0 1231.9,1208.8 1242.1,1214.4 1252.4,1220.1 1262.6,1225.8 1272.8,1231.4 1277.9,1234.2 1283.1,1236.1 1293.3,1239.8 1303.5,1243.5 1313.8,1247.1 1324.0,1250.8 1329.1,1252.6 1334.2,1254.1 1344.5,1257.0 1354.7,1259.8 1364.9,1262.7 1375.2,1265.6 1380.3,1267.0" fill="none" stroke="#FF9896" stroke-width="7" stroke-linejoin="round"/>
<path d="M246.85 1258.45L277.95 1258.45L277.95 1262.45L263.40 1286.55L261.40 1286.55L246.85 1262.45zM257.08 1255.09L288.18 1255.09L288.18 1259.09L273.63 1283.19L271.63 1283.19L257.08 1259.09zM267.32 1251.73L298.42 1251.73L298.42 1255.73L283.87 1279.83L281.87 1279.83L267.32 1255.73zM277.55 1248.37L308.65 1248.37L308.65 1252.37L294.10 1276.47L292.10 1276.47L277.55 1252.37zM287.79 1245.01L318.89 1245.01L318.89 1249.01L304.34 1273.11L302.34 1273.11L287.79 1249.01zM298.02 1241.65L329.12 1241.65L329.12 1245.65L314.57 1269.75L312.57 1269.75L298.02 1245.65zM308.25 1237.83L339.35 1237.83L339.35 1241.83L324.80 1265.93L322.80 1265.93L308.25 1241.83zM318.49 1234.01L349.59 1234.01L349.59 1238.01L335.04 1262.11L333.04 1262.11L318.49 1238.01zM328.72 1230.19L359.82 1230.19L359.82 1234.19L345.27 1258.29L343.27 1258.29L328.72 1234.19zM338.96 1226.37L370.06 1226.37L370.06 1230.37L355.51 1254.47L353.51 1254.47L338.96 1230.37zM349.19 1222.55L380.29 1222.55L380.29 1226.55L365.74 1250.65L363.74 1250.65L349.19 1226.55zM359.42 1217.43L390.52 1217.43L390.52 1221.43L375.97 1245.53L373.97 1245.53L359.42 1221.43zM369.66 1212.31L400.76 1212.31L400.76 1216.31L386.21 1240.41L384.21 1240.41L369.66 1216.31zM379.89 1207.19L410.99 1207.19L410.99 1211.19L396.44 1235.29L394.44 1235.29L379.89 1211.19zM390.13 1202.07L421.23 1202.07L421.23 1206.07L406.68 1230.17L404.68 1230.17L390.13 1206.07zM400.36 1196.95L431.46 1196.95L431.46 1200.95L416.91 1225.05L414.91 1225.05L400.36 1200.95zM410.59 1190.51L441.69 1190.51L441.69 1194.51L427.14 1218.61L425.14 1218.61L410.59 1194.51zM420.83 1184.07L451.93 1184.07L451.93 1188.07L437.38 1212.17L435.38 1212.17L420.83 1188.07zM431.06 1177.63L462.16 1177.63L462.16 1181.63L447.61 1205.73L445.61 1205.73L431.06 1181.63zM441.30 1171.19L472.40 1171.19L472.40 1175.19L457.85 1199.29L455.85 1199.29L441.30 1175.19zM451.53 1164.75L482.63 1164.75L482.63 1168.75L468.08 1192.85L466.08 1192.85L451.53 1168.75zM461.76 1157.01L492.86 1157.01L492.86 1161.01L478.31 1185.11L476.31 1185.11L461.76 1161.01zM472.00 1149.27L503.10 1149.27L503.10 1153.27L488.55 1177.37L486.55 1177.37L472.00 1153.27zM482.23 1141.53L513.33 1141.53L513.33 1145.53L498.78 1169.63L496.78 1169.63L482.23 1145.53zM492.47 1133.79L523.57 1133.79L523.57 1137.79L509.02 1161.89L507.02 1161.89L492.47 1137.79zM502.70 1126.05L533.80 1126.05L533.80 1130.05L519.25 1154.15L517.25 1154.15L502.70 1130.05zM512.93 1116.57L544.03 1116.57L544.03 1120.57L529.48 1144.67L527.48 1144.67L512.93 1120.57zM523.17 1107.09L554.27 1107.09L554.27 1111.09L539.72 1135.19L537.72 1135.19L523.17 1111.09zM533.40 1097.61L564.50 1097.61L564.50 1101.61L549.95 1125.71L547.95 1125.71L533.40 1101.61zM543.64 1088.13L574.74 1088.13L574.74 1092.13L560.19 1116.23L558.19 1116.23L543.64 1092.13zM553.87 1078.65L584.97 1078.65L584.97 1082.65L570.42 1106.75L568.42 1106.75L553.87 1082.65zM564.10 1066.29L595.20 1066.29L595.20 1070.29L580.65 1094.39L578.65 1094.39L564.10 1070.29zM574.34 1053.93L605.44 1053.93L605.44 1057.93L590.89 1082.03L588.89 1082.03L574.34 1057.93zM584.57 1041.57L615.67 1041.57L615.67 1045.57L601.12 1069.67L599.12 1069.67L584.57 1045.57zM594.81 1029.21L625.91 1029.21L625.91 1033.21L611.36 1057.31L609.36 1057.31L594.81 1033.21zM605.04 1016.85L636.14 1016.85L636.14 1020.85L621.59 1044.95L619.59 1044.95L605.04 1020.85zM615.27 1001.13L646.37 1001.13L646.37 1005.13L631.82 1029.23L629.82 1029.23L615.27 1005.13zM625.51 985.41L656.61 985.41L656.61 989.41L642.06 1013.51L640.06 1013.51L625.51 989.41zM635.74 969.69L666.84 969.69L666.84 973.69L652.29 997.79L650.29 997.79L635.74 973.69zM645.98 953.97L677.08 953.97L677.08 957.97L662.53 982.07L660.53 982.07L645.98 957.97zM656.21 938.25L687.31 938.25L687.31 942.25L672.76 966.35L670.76 966.35L656.21 942.25zM666.44 917.57L697.54 917.57L697.54 921.57L682.99 945.67L680.99 945.67L666.44 921.57zM676.68 896.89L707.78 896.89L707.78 900.89L693.23 924.99L691.23 924.99L676.68 900.89zM686.91 876.21L718.01 876.21L718.01 880.21L703.46 904.31L701.46 904.31L686.91 880.21zM697.15 855.53L728.25 855.53L728.25 859.53L713.70 883.63L711.70 883.63L697.15 859.53zM707.38 834.85L738.48 834.85L738.48 838.85L723.93 862.95L721.93 862.95L707.38 838.85zM717.61 810.09L748.71 810.09L748.71 814.09L734.16 838.19L732.16 838.19L717.61 814.09zM727.85 785.33L758.95 785.33L758.95 789.33L744.40 813.43L742.40 813.43L727.85 789.33zM738.08 760.57L769.18 760.57L769.18 764.57L754.63 788.67L752.63 788.67L738.08 764.57zM748.32 735.81L779.42 735.81L779.42 739.81L764.87 763.91L762.87 763.91L748.32 739.81zM758.55 711.05L789.65 711.05L789.65 715.05L775.10 739.15L773.10 739.15L758.55 715.05zM764.15 1323.50L795.25 1323.50L795.25 1327.50L780.70 1351.60L778.70 1351.60L764.15 1327.50zM847.85 1323.50L878.95 1323.50L878.95 1327.50L864.40 1351.60L862.40 1351.60L847.85 1327.50zM858.15 713.82L889.25 713.82L889.25 717.82L874.70 741.92L872.70 741.92L858.15 717.82zM868.38 738.36L899.48 738.36L899.48 742.36L884.93 766.46L882.93 766.46L868.38 742.36zM878.62 762.90L909.72 762.90L909.72 766.90L895.17 791.00L893.17 791.00L878.62 766.90zM888.85 787.44L919.95 787.44L919.95 791.44L905.40 815.54L903.40 815.54L888.85 791.44zM899.09 811.98L930.19 811.98L930.19 815.98L915.64 840.08L913.64 840.08L899.09 815.98zM909.32 835.04L940.42 835.04L940.42 839.04L925.87 863.14L923.87 863.14L909.32 839.04zM919.55 856.62L950.65 856.62L950.65 860.62L936.10 884.72L934.10 884.72L919.55 860.62zM929.79 878.20L960.89 878.20L960.89 882.20L946.34 906.30L944.34 906.30L929.79 882.20zM940.02 899.78L971.12 899.78L971.12 903.78L956.57 927.88L954.57 927.88L940.02 903.78zM950.26 921.36L981.36 921.36L981.36 925.36L966.81 949.46L964.81 949.46L950.26 925.36zM960.49 940.44L991.59 940.44L991.59 944.44L977.04 968.54L975.04 968.54L960.49 944.44zM970.72 957.02L1001.82 957.02L1001.82 961.02L987.27 985.12L985.27 985.12L970.72 961.02zM980.96 973.60L1012.06 973.60L1012.06 977.60L997.51 1001.70L995.51 1001.70L980.96 977.60zM991.19 990.18L1022.29 990.18L1022.29 994.18L1007.74 1018.28L1005.74 1018.28L991.19 994.18zM1001.43 1006.76L1032.53 1006.76L1032.53 1010.76L1017.98 1034.86L1015.98 1034.86L1001.43 1010.76zM1011.66 1021.02L1042.76 1021.02L1042.76 1025.02L1028.21 1049.12L1026.21 1049.12L1011.66 1025.02zM1021.89 1032.96L1052.99 1032.96L1052.99 1036.96L1038.44 1061.06L1036.44 1061.06L1021.89 1036.96zM1032.13 1044.90L1063.23 1044.90L1063.23 1048.90L1048.68 1073.00L1046.68 1073.00L1032.13 1048.90zM1042.36 1056.84L1073.46 1056.84L1073.46 1060.84L1058.91 1084.94L1056.91 1084.94L1042.36 1060.84zM1052.60 1068.78L1083.70 1068.78L1083.70 1072.78L1069.15 1096.88L1067.15 1096.88L1052.60 1072.78zM1062.83 1079.76L1093.93 1079.76L1093.93 1083.76L1079.38 1107.86L1077.38 1107.86L1062.83 1083.76zM1073.06 1089.78L1104.16 1089.78L1104.16 1093.78L1089.61 1117.88L1087.61 1117.88L1073.06 1093.78zM1083.30 1099.80L1114.40 1099.80L1114.40 1103.80L1099.85 1127.90L1097.85 1127.90L1083.30 1103.80zM1093.53 1109.82L1124.63 1109.82L1124.63 1113.82L1110.08 1137.92L1108.08 1137.92L1093.53 1113.82zM1103.77 1119.84L1134.87 1119.84L1134.87 1123.84L1120.32 1147.94L1118.32 1147.94L1103.77 1123.84zM1114.00 1128.81L1145.10 1128.81L1145.10 1132.81L1130.55 1156.91L1128.55 1156.91L1114.00 1132.81zM1124.23 1136.73L1155.33 1136.73L1155.33 1140.73L1140.78 1164.83L1138.78 1164.83L1124.23 1140.73zM1134.47 1144.65L1165.57 1144.65L1165.57 1148.65L1151.02 1172.75L1149.02 1172.75L1134.47 1148.65zM1144.70 1152.57L1175.80 1152.57L1175.80 1156.57L1161.25 1180.67L1159.25 1180.67L1144.70 1156.57zM1154.94 1160.49L1186.04 1160.49L1186.04 1164.49L1171.49 1188.59L1169.49 1188.59L1154.94 1164.49zM1165.17 1167.65L1196.27 1167.65L1196.27 1171.65L1181.72 1195.75L1179.72 1195.75L1165.17 1171.65zM1175.40 1174.05L1206.50 1174.05L1206.50 1178.05L1191.95 1202.15L1189.95 1202.15L1175.40 1178.05zM1185.64 1180.45L1216.74 1180.45L1216.74 1184.45L1202.19 1208.55L1200.19 1208.55L1185.64 1184.45zM1195.87 1186.85L1226.97 1186.85L1226.97 1190.85L1212.42 1214.95L1210.42 1214.95L1195.87 1190.85zM1206.11 1193.25L1237.21 1193.25L1237.21 1197.25L1222.66 1221.35L1220.66 1221.35L1206.11 1197.25zM1216.34 1199.28L1247.44 1199.28L1247.44 1203.28L1232.89 1227.38L1230.89 1227.38L1216.34 1203.28zM1226.57 1204.94L1257.67 1204.94L1257.67 1208.94L1243.12 1233.04L1241.12 1233.04L1226.57 1208.94zM1236.81 1210.60L1267.91 1210.60L1267.91 1214.60L1253.36 1238.70L1251.36 1238.70L1236.81 1214.60zM1247.04 1216.26L1278.14 1216.26L1278.14 1220.26L1263.59 1244.36L1261.59 1244.36L1247.04 1220.26zM1257.28 1221.92L1288.38 1221.92L1288.38 1225.92L1273.83 1250.02L1271.83 1250.02L1257.28 1225.92zM1267.51 1226.59L1298.61 1226.59L1298.61 1230.59L1284.06 1254.69L1282.06 1254.69L1267.51 1230.59zM1277.74 1230.27L1308.84 1230.27L1308.84 1234.27L1294.29 1258.37L1292.29 1258.37L1277.74 1234.27zM1287.98 1233.95L1319.08 1233.95L1319.08 1237.95L1304.53 1262.05L1302.53 1262.05L1287.98 1237.95zM1298.21 1237.63L1329.31 1237.63L1329.31 1241.63L1314.76 1265.73L1312.76 1265.73L1298.21 1241.63zM1308.45 1241.31L1339.55 1241.31L1339.55 1245.31L1325.00 1269.41L1323.00 1269.41L1308.45 1245.31zM1318.68 1244.59L1349.78 1244.59L1349.78 1248.59L1335.23 1272.69L1333.23 1272.69L1318.68 1248.59zM1328.91 1247.47L1360.01 1247.47L1360.01 1251.47L1345.46 1275.57L1343.46 1275.57L1328.91 1251.47zM1339.15 1250.35L1370.25 1250.35L1370.25 1254.35L1355.70 1278.45L1353.70 1278.45L1339.15 1254.35zM1349.38 1253.23L1380.48 1253.23L1380.48 1257.23L1365.93 1281.33L1363.93 1281.33L1349.38 1257.23zM1359.62 1256.11L1390.72 1256.11L1390.72 1260.11L1376.17 1284.21L1374.17 1284.21L1359.62 1260.11z"/>
</g>
<g fill="#DBDB8D">
<polyline points="262.4,1238.2 272.6,1233.5 282.9,1228.8 293.1,1224.0 303.3,1219.3 313.6,1214.6 323.8,1208.8 334.0,1202.9 344.3,1197.1 354.5,1191.2 364.7,1185.4 375.0,1178.2 385.2,1170.9 395.4,1163.7 405.7,1156.4 415.9,1149.2 426.1,1140.1 436.4,1131.0 446.6,1121.9 456.8,1112.8 467.1,1103.7 477.3,1093.0 487.5,1082.2 497.8,1071.5 508.0,1060.7 518.2,1050.0 528.5,1037.0 538.7,1023.9 549.0,1010.9 559.2,997.8 569.4,984.8 579.7,968.0 589.9,951.3 600.1,934.5 610.4,917.8 620.6,901.0 630.8,880.4 641.1,859.9 651.3,839.3 661.5,818.8 671.8,798.2 682.0,771.9 692.2,745.6 702.5,719.3 712.7,693.0 722.9,666.7 733.2,635.7 743.4,604.8 753.6,573.8 763.9,542.9 774.1,511.9 779.7,1333.0 863.4,1333.0 868.6,518.7 873.7,533.8 883.9,564.1 894.2,594.4 904.4,624.6 914.6,654.9 919.8,670.0 924.9,683.6 935.1,710.9 945.3,738.2 955.6,765.5 965.8,792.8 970.9,806.4 976.0,816.8 986.3,837.5 996.5,858.2 1006.7,879.0 1017.0,899.7 1022.1,910.1 1027.2,918.1 1037.4,934.0 1047.7,950.0 1057.9,965.9 1068.1,981.8 1073.3,989.8 1078.4,996.5 1088.6,1009.8 1098.8,1023.1 1109.1,1036.4 1119.3,1049.7 1124.4,1056.4 1129.5,1061.5 1139.8,1071.6 1150.0,1081.7 1160.3,1091.8 1170.5,1101.9 1175.6,1107.0 1180.7,1111.5 1191.0,1120.5 1201.2,1129.5 1211.4,1138.4 1221.7,1147.4 1226.8,1151.9 1231.9,1155.5 1242.1,1162.7 1252.4,1169.8 1262.6,1177.0 1272.8,1184.2 1277.9,1187.8 1283.1,1190.5 1293.3,1196.0 1303.5,1201.4 1313.8,1206.8 1324.0,1212.3 1329.1,1215.0 1334.2,1217.5 1344.5,1222.5 1354.7,1227.5 1364.9,1232.5 1375.2,1237.5 1380.3,1240.0" fill="none" stroke="#DBDB8D" stroke-width="7" stroke-linejoin="round"/>
<ellipse cx="262.4" cy="1237.7" rx="13" ry="13"/>
<ellipse cx="272.6" cy="1233.0" rx="13" ry="13"/>
<ellipse cx="282.9" cy="1228.3" rx="13" ry="13"/>
<ellipse cx="293.1" cy="1223.5" rx="13" ry="13"/>
<ellipse cx="303.3" cy="1218.8" rx="13" ry="13"/>
<ellipse cx="313.6" cy="1214.1" rx="13" ry="13"/>
<ellipse cx="323.8" cy="1208.3" rx="13" ry="13"/>
<ellipse cx="334.0" cy="1202.4" rx="13" ry="13"/>
<ellipse cx="344.3" cy="1196.6" rx="13" ry="13"/>
<ellipse cx="354.5" cy="1190.7" rx="13" ry="13"/>
<ellipse cx="364.7" cy="1184.9" rx="13" ry="13"/>
<ellipse cx="375.0" cy="1177.7" rx="13" ry="13"/>
<ellipse cx="385.2" cy="1170.4" rx="13" ry="13"/>
<ellipse cx="395.4" cy="1163.2" rx="13" ry="13"/>
<ellipse cx="405.7" cy="1155.9" rx="13" ry="13"/>
<ellipse cx="415.9" cy="1148.7" rx="13" ry="13"/>
<ellipse cx="426.1" cy="1139.6" rx="13" ry="13"/>
<ellipse cx="436.4" cy="1130.5" rx="13" ry="13"/>
<ellipse cx="446.6" cy="1121.4" rx="13" ry="13"/>
<ellipse cx="456.8" cy="1112.3" rx="13" ry="13"/>
<ellipse cx="467.1" cy="1103.2" rx="13" ry="13"/>
<ellipse cx="477.3" cy="1092.5" rx="13" ry="13"/>
<ellipse cx="487.5" cy="1081.7" rx="13" ry="13"/>
<ellipse cx="497.8" cy="1071.0" rx="13" ry="13"/>
<ellipse cx="508.0" cy="1060.2" rx="13" ry="13"/>
<ellipse cx="518.2" cy="1049.5" rx="13" ry="13"/>
<ellipse cx="528.5" cy="1036.5" rx="13" ry="13"/>
<ellipse cx="538.7" cy="1023.4" rx="13" ry="13"/>
<ellipse cx="549.0" cy="1010.4" rx="13" ry="13"/>
<ellipse cx="559.2" cy="997.3" rx="13" ry="13"/>
<ellipse cx="569.4" cy="984.3" rx="13" ry="13"/>
<ellipse cx="579.7" cy="967.5" rx="13" ry="13"/>
<ellipse cx="589.9" cy="950.8" rx="13" ry="13"/>
<ellipse cx="600.1" cy="934.0" rx="13" ry="13"/>
<ellipse cx="610.4" cy="917.3" rx="13" ry="13"/>
<ellipse cx="620.6" cy="900.5" rx="13" ry="13"/>
<ellipse cx="630.8" cy="879.9" rx="13" ry="13"/>
<ellipse cx="641.1" cy="859.4" rx="13" ry="13"/>
<ellipse cx="651.3" cy="838.8" rx="13" ry="13"/>
<ellipse cx="661.5" cy="818.3" rx="13" ry="13"/>
<ellipse cx="671.8" cy="797.7" rx="13" ry="13"/>
<ellipse cx="682.0" cy="771.4" rx="13" ry="13"/>
<ellipse cx="692.2" cy="745.1" rx="13" ry="13"/>
<ellipse cx="702.5" cy="718.8" rx="13" ry="13"/>
<ellipse cx="712.7" cy="692.5" rx="13" ry="13"/>
<ellipse cx="722.9" cy="666.2" rx="13" ry="13"/>
<ellipse cx="733.2" cy="635.2" rx="13" ry="13"/>
<ellipse cx="743.4" cy="604.3" rx="13" ry="13"/>
<ellipse cx="753.6" cy="573.3" rx="13" ry="13"/>
<ellipse cx="763.9" cy="542.4" rx="13" ry="13"/>
<ellipse cx="774.1" cy="511.4" rx="13" ry="13"/>
<ellipse cx="779.7" cy="1332.5" rx="13" ry="13"/>
<ellipse cx="863.4" cy="1332.5" rx="13" ry="13"/>
<ellipse cx="873.7" cy="533.3" rx="13" ry="13"/>
<ellipse cx="883.9" cy="563.6" rx="13" ry="13"/>
<ellipse cx="894.2" cy="593.9" rx="13" ry="13"/>
<ellipse cx="904.4" cy="624.1" rx="13" ry="13"/>
<ellipse cx="914.6" cy="654.4" rx="13" ry="13"/>
<ellipse cx="924.9" cy="683.1" rx="13" ry="13"/>
<ellipse cx="935.1" cy="710.4" rx="13" ry="13"/>
<ellipse cx="945.3" cy="737.7" rx="13" ry="13"/>
<ellipse cx="955.6" cy="765.0" rx="13" ry="13"/>
<ellipse cx="965.8" cy="792.3" rx="13" ry="13"/>
<ellipse cx="976.0" cy="816.3" rx="13" ry="13"/>
<ellipse cx="986.3" cy="837.0" rx="13" ry="13"/>
<ellipse cx="996.5" cy="857.8" rx="13" ry="13"/>
<ellipse cx="1006.7" cy="878.5" rx="13" ry="13"/>
<ellipse cx="1017.0" cy="899.2" rx="13" ry="13"/>
<ellipse cx="1027.2" cy="917.6" rx="13" ry="13"/>
<ellipse cx="1037.4" cy="933.5" rx="13" ry="13"/>
<ellipse cx="1047.7" cy="949.5" rx="13" ry="13"/>
<ellipse cx="1057.9" cy="965.4" rx="13" ry="13"/>
<ellipse cx="1068.1" cy="981.3" rx="13" ry="13"/>
<ellipse cx="1078.4" cy="996.0" rx="13" ry="13"/>
<ellipse cx="1088.6" cy="1009.3" rx="13" ry="13"/>
<ellipse cx="1098.8" cy="1022.6" rx="13" ry="13"/>
<ellipse cx="1109.1" cy="1035.9" rx="13" ry="13"/>
<ellipse cx="1119.3" cy="1049.2" rx="13" ry="13"/>
<ellipse cx="1129.5" cy="1061.0" rx="13" ry="13"/>
<ellipse cx="1139.8" cy="1071.1" rx="13" ry="13"/>
<ellipse cx="1150.0" cy="1081.2" rx="13" ry="13"/>
<ellipse cx="1160.3" cy="1091.3" rx="13" ry="13"/>
<ellipse cx="1170.5" cy="1101.4" rx="13" ry="13"/>
<ellipse cx="1180.7" cy="1111.0" rx="13" ry="13"/>
<ellipse cx="1191.0" cy="1120.0" rx="13" ry="13"/>
<ellipse cx="1201.2" cy="1129.0" rx="13" ry="13"/>
<ellipse cx="1211.4" cy="1137.9" rx="13" ry="13"/>
<ellipse cx="1221.7" cy="1146.9" rx="13" ry="13"/>
<ellipse cx="1231.9" cy="1155.0" rx="13" ry="13"/>
<ellipse cx="1242.1" cy="1162.2" rx="13" ry="13"/>
<ellipse cx="1252.4" cy="1169.3" rx="13" ry="13"/>
<ellipse cx="1262.6" cy="1176.5" rx="13" ry="13"/>
<ellipse cx="1272.8" cy="1183.7" rx="13" ry="13"/>
<ellipse cx="1283.1" cy="1190.0" rx="13" ry="13"/>
<ellipse cx="1293.3" cy="1195.5" rx="13" ry="13"/>
<ellipse cx="1303.5" cy="1200.9" rx="13" ry="13"/>
<ellipse cx="1313.8" cy="1206.3" rx="13" ry="13"/>
<ellipse cx="1324.0" cy="1211.8" rx="13" ry="13"/>
<ellipse cx="1334.2" cy="1217.0" rx="13" ry="13"/>
<ellipse cx="1344.5" cy="1222.0" rx="13" ry="13"/>
<ellipse cx="1354.7" cy="1227.0" rx="13" ry="13"/>
<ellipse cx="1364.9" cy="1232.0" rx="13" ry="13"/>
<ellipse cx="1375.2" cy="1237.0" rx="13" ry="13"/>
</g>
<g fill="#D49C94">
<polyline points="262.4,1198.8 272.6,1192.2 282.9,1185.6 293.1,1179.1 303.3,1172.5 313.6,1166.0 323.8,1157.9 334.0,1149.8 344.3,1141.7 354.5,1133.5 364.7,1125.5 375.0,1115.4 385.2,1105.2 395.4,1095.2 405.7,1085.0 415.9,1075.0 426.1,1062.4 436.4,1049.9 446.6,1037.3 456.8,1024.8 467.1,1012.2 477.3,997.0 487.5,981.7 497.8,966.4 508.0,951.1 518.2,935.9 528.5,918.0 538.7,900.2 549.0,882.3 559.2,864.5 569.4,846.7 579.7,824.3 589.9,801.9 600.1,779.5 610.4,757.1 620.6,734.7 630.8,707.7 641.1,680.8 651.3,653.8 661.5,626.9 671.8,600.0 682.0,565.6 692.2,531.3 702.5,496.9 712.7,462.6 722.9,428.2 733.2,388.1 743.4,347.9 753.6,307.8 763.9,267.6 774.1,227.4 779.7,1333.0 863.4,1333.0 868.6,228.1 873.7,247.8 883.9,287.2 894.2,326.5 904.4,365.9 914.6,405.3 919.8,424.9 924.9,442.6 935.1,477.8 945.3,513.0 955.6,548.2 965.8,583.4 970.9,601.0 976.0,615.1 986.3,643.4 996.5,671.7 1006.7,700.0 1017.0,728.3 1022.1,742.5 1027.2,753.0 1037.4,774.1 1047.7,795.2 1057.9,816.3 1068.1,837.4 1073.3,848.0 1078.4,856.7 1088.6,874.2 1098.8,891.7 1109.1,909.2 1119.3,926.7 1124.4,935.5 1129.5,943.2 1139.8,958.6 1150.0,974.0 1160.3,989.4 1170.5,1004.8 1175.6,1012.5 1180.7,1018.4 1191.0,1030.3 1201.2,1042.2 1211.4,1054.1 1221.7,1066.0 1226.8,1072.0 1231.9,1077.3 1242.1,1087.9 1252.4,1098.5 1262.6,1109.1 1272.8,1119.7 1277.9,1125.0 1283.1,1129.0 1293.3,1136.9 1303.5,1144.8 1313.8,1152.6 1324.0,1160.5 1329.1,1164.5 1334.2,1167.5 1344.5,1173.7 1354.7,1179.9 1364.9,1186.0 1375.2,1192.2 1380.3,1195.2" fill="none" stroke="#D49C94" stroke-width="7" stroke-linejoin="round"/>
<path d="M261.00 1184.25L263.80 1184.25L275.40 1191.45L275.40 1207.15L263.40 1214.30L261.40 1214.30L249.40 1207.15L249.40 1191.45zM271.23 1177.69L274.03 1177.69L285.63 1184.89L285.63 1200.59L273.63 1207.74L271.63 1207.74L259.63 1200.59L259.63 1184.89zM281.47 1171.13L284.27 1171.13L295.87 1178.33L295.87 1194.03L283.87 1201.18L281.87 1201.18L269.87 1194.03L269.87 1178.33zM291.70 1164.57L294.50 1164.57L306.10 1171.77L306.10 1187.47L294.10 1194.62L292.10 1194.62L280.10 1187.47L280.10 1171.77zM301.94 1158.01L304.74 1158.01L316.34 1165.21L316.34 1180.91L304.34 1188.06L302.34 1188.06L290.34 1180.91L290.34 1165.21zM312.17 1151.45L314.97 1151.45L326.57 1158.65L326.57 1174.35L314.57 1181.50L312.57 1181.50L300.57 1174.35L300.57 1158.65zM322.40 1143.35L325.20 1143.35L336.80 1150.55L336.80 1166.25L324.80 1173.40L322.80 1173.40L310.80 1166.25L310.80 1150.55zM332.64 1135.25L335.44 1135.25L347.04 1142.45L347.04 1158.15L335.04 1165.30L333.04 1165.30L321.04 1158.15L321.04 1142.45zM342.87 1127.15L345.67 1127.15L357.27 1134.35L357.27 1150.05L345.27 1157.20L343.27 1157.20L331.27 1150.05L331.27 1134.35zM353.11 1119.05L355.91 1119.05L367.51 1126.25L367.51 1141.95L355.51 1149.10L353.51 1149.10L341.51 1141.95L341.51 1126.25zM363.34 1110.95L366.14 1110.95L377.74 1118.15L377.74 1133.85L365.74 1141.00L363.74 1141.00L351.74 1133.85L351.74 1118.15zM373.57 1100.85L376.37 1100.85L387.97 1108.05L387.97 1123.75L375.97 1130.90L373.97 1130.90L361.97 1123.75L361.97 1108.05zM383.81 1090.75L386.61 1090.75L398.21 1097.95L398.21 1113.65L386.21 1120.80L384.21 1120.80L372.21 1113.65L372.21 1097.95zM394.04 1080.65L396.84 1080.65L408.44 1087.85L408.44 1103.55L396.44 1110.70L394.44 1110.70L382.44 1103.55L382.44 1087.85zM404.28 1070.55L407.08 1070.55L418.68 1077.75L418.68 1093.45L406.68 1100.60L404.68 1100.60L392.68 1093.45L392.68 1077.75zM414.51 1060.45L417.31 1060.45L428.91 1067.65L428.91 1083.35L416.91 1090.50L414.91 1090.50L402.91 1083.35L402.91 1067.65zM424.74 1047.91L427.54 1047.91L439.14 1055.11L439.14 1070.81L427.14 1077.96L425.14 1077.96L413.14 1070.81L413.14 1055.11zM434.98 1035.37L437.78 1035.37L449.38 1042.57L449.38 1058.27L437.38 1065.42L435.38 1065.42L423.38 1058.27L423.38 1042.57zM445.21 1022.83L448.01 1022.83L459.61 1030.03L459.61 1045.73L447.61 1052.88L445.61 1052.88L433.61 1045.73L433.61 1030.03zM455.45 1010.29L458.25 1010.29L469.85 1017.49L469.85 1033.19L457.85 1040.34L455.85 1040.34L443.85 1033.19L443.85 1017.49zM465.68 997.75L468.48 997.75L480.08 1004.95L480.08 1020.65L468.08 1027.80L466.08 1027.80L454.08 1020.65L454.08 1004.95zM475.91 982.47L478.71 982.47L490.31 989.67L490.31 1005.37L478.31 1012.52L476.31 1012.52L464.31 1005.37L464.31 989.67zM486.15 967.19L488.95 967.19L500.55 974.39L500.55 990.09L488.55 997.24L486.55 997.24L474.55 990.09L474.55 974.39zM496.38 951.91L499.18 951.91L510.78 959.11L510.78 974.81L498.78 981.96L496.78 981.96L484.78 974.81L484.78 959.11zM506.62 936.63L509.42 936.63L521.02 943.83L521.02 959.53L509.02 966.68L507.02 966.68L495.02 959.53L495.02 943.83zM516.85 921.35L519.65 921.35L531.25 928.55L531.25 944.25L519.25 951.40L517.25 951.40L505.25 944.25L505.25 928.55zM527.08 903.51L529.88 903.51L541.48 910.71L541.48 926.41L529.48 933.56L527.48 933.56L515.48 926.41L515.48 910.71zM537.32 885.67L540.12 885.67L551.72 892.87L551.72 908.57L539.72 915.72L537.72 915.72L525.72 908.57L525.72 892.87zM547.55 867.83L550.35 867.83L561.95 875.03L561.95 890.73L549.95 897.88L547.95 897.88L535.95 890.73L535.95 875.03zM557.79 849.99L560.59 849.99L572.19 857.19L572.19 872.89L560.19 880.04L558.19 880.04L546.19 872.89L546.19 857.19zM568.02 832.15L570.82 832.15L582.42 839.35L582.42 855.05L570.42 862.20L568.42 862.20L556.42 855.05L556.42 839.35zM578.25 809.75L581.05 809.75L592.65 816.95L592.65 832.65L580.65 839.80L578.65 839.80L566.65 832.65L566.65 816.95zM588.49 787.35L591.29 787.35L602.89 794.55L602.89 810.25L590.89 817.40L588.89 817.40L576.89 810.25L576.89 794.55zM598.72 764.95L601.52 764.95L613.12 772.15L613.12 787.85L601.12 795.00L599.12 795.00L587.12 787.85L587.12 772.15zM608.96 742.55L611.76 742.55L623.36 749.75L623.36 765.45L611.36 772.60L609.36 772.60L597.36 765.45L597.36 749.75zM619.19 720.15L621.99 720.15L633.59 727.35L633.59 743.05L621.59 750.20L619.59 750.20L607.59 743.05L607.59 727.35zM629.42 693.21L632.22 693.21L643.82 700.41L643.82 716.11L631.82 723.26L629.82 723.26L617.82 716.11L617.82 700.41zM639.66 666.27L642.46 666.27L654.06 673.47L654.06 689.17L642.06 696.32L640.06 696.32L628.06 689.17L628.06 673.47zM649.89 639.33L652.69 639.33L664.29 646.53L664.29 662.23L652.29 669.38L650.29 669.38L638.29 662.23L638.29 646.53zM660.13 612.39L662.93 612.39L674.53 619.59L674.53 635.29L662.53 642.44L660.53 642.44L648.53 635.29L648.53 619.59zM670.36 585.45L673.16 585.45L684.76 592.65L684.76 608.35L672.76 615.50L670.76 615.50L658.76 608.35L658.76 592.65zM680.59 551.11L683.39 551.11L694.99 558.31L694.99 574.01L682.99 581.16L680.99 581.16L668.99 574.01L668.99 558.31zM690.83 516.77L693.63 516.77L705.23 523.97L705.23 539.67L693.23 546.82L691.23 546.82L679.23 539.67L679.23 523.97zM701.06 482.43L703.86 482.43L715.46 489.63L715.46 505.33L703.46 512.48L701.46 512.48L689.46 505.33L689.46 489.63zM711.30 448.09L714.10 448.09L725.70 455.29L725.70 470.99L713.70 478.14L711.70 478.14L699.70 470.99L699.70 455.29zM721.53 413.75L724.33 413.75L735.93 420.95L735.93 436.65L723.93 443.80L721.93 443.80L709.93 436.65L709.93 420.95zM731.76 373.59L734.56 373.59L746.16 380.79L746.16 396.49L734.16 403.64L732.16 403.64L720.16 396.49L720.16 380.79zM742.00 333.43L744.80 333.43L756.40 340.63L756.40 356.33L744.40 363.48L742.40 363.48L730.40 356.33L730.40 340.63zM752.23 293.27L755.03 293.27L766.63 300.47L766.63 316.17L754.63 323.32L752.63 323.32L740.63 316.17L740.63 300.47zM762.47 253.11L765.27 253.11L776.87 260.31L776.87 276.01L764.87 283.16L762.87 283.16L750.87 276.01L750.87 260.31zM772.70 212.95L775.50 212.95L787.10 220.15L787.10 235.85L775.10 243.00L773.10 243.00L761.10 235.85L761.10 220.15zM778.30 1318.50L781.10 1318.50L792.70 1325.70L792.70 1341.40L780.70 1348.55L778.70 1348.55L766.70 1341.40L766.70 1325.70zM862.00 1318.50L864.80 1318.50L876.40 1325.70L876.40 1341.40L864.40 1348.55L862.40 1348.55L850.40 1341.40L850.40 1325.70zM872.30 233.28L875.10 233.28L886.70 240.48L886.70 256.19L874.70 263.33L872.70 263.33L860.70 256.19L860.70 240.48zM882.53 272.65L885.33 272.65L896.93 279.85L896.93 295.55L884.93 302.70L882.93 302.70L870.93 295.55L870.93 279.85zM892.77 312.02L895.57 312.02L907.17 319.22L907.17 334.92L895.17 342.07L893.17 342.07L881.17 334.92L881.17 319.22zM903.00 351.39L905.80 351.39L917.40 358.59L917.40 374.29L905.40 381.44L903.40 381.44L891.40 374.29L891.40 358.59zM913.24 390.76L916.04 390.76L927.64 397.96L927.64 413.66L915.64 420.81L913.64 420.81L901.64 413.66L901.64 397.96zM923.47 428.05L926.27 428.05L937.87 435.25L937.87 450.95L925.87 458.10L923.87 458.10L911.87 450.95L911.87 435.25zM933.70 463.25L936.50 463.25L948.10 470.45L948.10 486.15L936.10 493.30L934.10 493.30L922.10 486.15L922.10 470.45zM943.94 498.45L946.74 498.45L958.34 505.65L958.34 521.35L946.34 528.50L944.34 528.50L932.34 521.35L932.34 505.65zM954.17 533.65L956.97 533.65L968.57 540.85L968.57 556.55L956.57 563.70L954.57 563.70L942.57 556.55L942.57 540.85zM964.41 568.85L967.21 568.85L978.81 576.05L978.81 591.75L966.81 598.90L964.81 598.90L952.81 591.75L952.81 576.05zM974.64 600.60L977.44 600.60L989.04 607.80L989.04 623.50L977.04 630.65L975.04 630.65L963.04 623.50L963.04 607.80zM984.87 628.90L987.67 628.90L999.27 636.10L999.27 651.80L987.27 658.95L985.27 658.95L973.27 651.80L973.27 636.10zM995.11 657.20L997.91 657.20L1009.51 664.40L1009.51 680.10L997.51 687.25L995.51 687.25L983.51 680.10L983.51 664.40zM1005.34 685.50L1008.14 685.50L1019.74 692.70L1019.74 708.40L1007.74 715.55L1005.74 715.55L993.74 708.40L993.74 692.70zM1015.58 713.80L1018.38 713.80L1029.98 721.00L1029.98 736.70L1017.98 743.85L1015.98 743.85L1003.98 736.70L1003.98 721.00zM1025.81 738.50L1028.61 738.50L1040.21 745.70L1040.21 761.40L1028.21 768.55L1026.21 768.55L1014.21 761.40L1014.21 745.70zM1036.04 759.60L1038.84 759.60L1050.44 766.80L1050.44 782.50L1038.44 789.65L1036.44 789.65L1024.44 782.50L1024.44 766.80zM1046.28 780.70L1049.08 780.70L1060.68 787.90L1060.68 803.60L1048.68 810.75L1046.68 810.75L1034.68 803.60L1034.68 787.90zM1056.51 801.80L1059.31 801.80L1070.91 809.00L1070.91 824.70L1058.91 831.85L1056.91 831.85L1044.91 824.70L1044.91 809.00zM1066.75 822.90L1069.55 822.90L1081.15 830.10L1081.15 845.80L1069.15 852.95L1067.15 852.95L1055.15 845.80L1055.15 830.10zM1076.98 842.20L1079.78 842.20L1091.38 849.40L1091.38 865.10L1079.38 872.25L1077.38 872.25L1065.38 865.10L1065.38 849.40zM1087.21 859.70L1090.01 859.70L1101.61 866.90L1101.61 882.60L1089.61 889.75L1087.61 889.75L1075.61 882.60L1075.61 866.90zM1097.45 877.20L1100.25 877.20L1111.85 884.40L1111.85 900.10L1099.85 907.25L1097.85 907.25L1085.85 900.10L1085.85 884.40zM1107.68 894.70L1110.48 894.70L1122.08 901.90L1122.08 917.60L1110.08 924.75L1108.08 924.75L1096.08 917.60L1096.08 901.90zM1117.92 912.20L1120.72 912.20L1132.32 919.40L1132.32 935.10L1120.32 942.25L1118.32 942.25L1106.32 935.10L1106.32 919.40zM1128.15 928.65L1130.95 928.65L1142.55 935.85L1142.55 951.55L1130.55 958.70L1128.55 958.70L1116.55 951.55L1116.55 935.85zM1138.38 944.05L1141.18 944.05L1152.78 951.25L1152.78 966.95L1140.78 974.10L1138.78 974.10L1126.78 966.95L1126.78 951.25zM1148.62 959.45L1151.42 959.45L1163.02 966.65L1163.02 982.35L1151.02 989.50L1149.02 989.50L1137.02 982.35L1137.02 966.65zM1158.85 974.85L1161.65 974.85L1173.25 982.05L1173.25 997.75L1161.25 1004.90L1159.25 1004.90L1147.25 997.75L1147.25 982.05zM1169.09 990.25L1171.89 990.25L1183.49 997.45L1183.49 1013.15L1171.49 1020.30L1169.49 1020.30L1157.49 1013.15L1157.49 997.45zM1179.32 1003.90L1182.12 1003.90L1193.72 1011.10L1193.72 1026.80L1181.72 1033.95L1179.72 1033.95L1167.72 1026.80L1167.72 1011.10zM1189.55 1015.80L1192.35 1015.80L1203.95 1023.00L1203.95 1038.70L1191.95 1045.85L1189.95 1045.85L1177.95 1038.70L1177.95 1023.00zM1199.79 1027.70L1202.59 1027.70L1214.19 1034.90L1214.19 1050.60L1202.19 1057.75L1200.19 1057.75L1188.19 1050.60L1188.19 1034.90zM1210.02 1039.60L1212.82 1039.60L1224.42 1046.80L1224.42 1062.50L1212.42 1069.65L1210.42 1069.65L1198.42 1062.50L1198.42 1046.80zM1220.26 1051.50L1223.06 1051.50L1234.66 1058.70L1234.66 1074.40L1222.66 1081.55L1220.66 1081.55L1208.66 1074.40L1208.66 1058.70zM1230.49 1062.76L1233.29 1062.76L1244.89 1069.96L1244.89 1085.66L1232.89 1092.81L1230.89 1092.81L1218.89 1085.66L1218.89 1069.96zM1240.72 1073.38L1243.52 1073.38L1255.12 1080.58L1255.12 1096.28L1243.12 1103.43L1241.12 1103.43L1229.12 1096.28L1229.12 1080.58zM1250.96 1084.00L1253.76 1084.00L1265.36 1091.20L1265.36 1106.90L1253.36 1114.05L1251.36 1114.05L1239.36 1106.90L1239.36 1091.20zM1261.19 1094.62L1263.99 1094.62L1275.59 1101.82L1275.59 1117.52L1263.59 1124.67L1261.59 1124.67L1249.59 1117.52L1249.59 1101.82zM1271.43 1105.24L1274.23 1105.24L1285.83 1112.44L1285.83 1128.14L1273.83 1135.29L1271.83 1135.29L1259.83 1128.14L1259.83 1112.44zM1281.66 1114.49L1284.46 1114.49L1296.06 1121.69L1296.06 1137.39L1284.06 1144.54L1282.06 1144.54L1270.06 1137.39L1270.06 1121.69zM1291.89 1122.37L1294.69 1122.37L1306.29 1129.57L1306.29 1145.27L1294.29 1152.42L1292.29 1152.42L1280.29 1145.27L1280.29 1129.57zM1302.13 1130.25L1304.93 1130.25L1316.53 1137.45L1316.53 1153.15L1304.53 1160.30L1302.53 1160.30L1290.53 1153.15L1290.53 1137.45zM1312.36 1138.13L1315.16 1138.13L1326.76 1145.33L1326.76 1161.03L1314.76 1168.18L1312.76 1168.18L1300.76 1161.03L1300.76 1145.33zM1322.60 1146.01L1325.40 1146.01L1337.00 1153.21L1337.00 1168.91L1325.00 1176.06L1323.00 1176.06L1311.00 1168.91L1311.00 1153.21zM1332.83 1153.03L1335.63 1153.03L1347.23 1160.23L1347.23 1175.93L1335.23 1183.08L1333.23 1183.08L1321.23 1175.93L1321.23 1160.23zM1343.06 1159.19L1345.86 1159.19L1357.46 1166.39L1357.46 1182.09L1345.46 1189.24L1343.46 1189.24L1331.46 1182.09L1331.46 1166.39zM1353.30 1165.35L1356.10 1165.35L1367.70 1172.55L1367.70 1188.25L1355.70 1195.40L1353.70 1195.40L1341.70 1188.25L1341.70 1172.55zM1363.53 1171.51L1366.33 1171.51L1377.93 1178.71L1377.93 1194.41L1365.93 1201.56L1363.93 1201.56L1351.93 1194.41L1351.93 1178.71zM1373.77 1177.67L1376.57 1177.67L1388.17 1184.87L1388.17 1200.57L1376.17 1207.72L1374.17 1207.72L1362.17 1200.57L1362.17 1184.87z"/>
</g>
</svg>
<rect x="809" y="1331" width="26" height="2.2" fill="#000"/>
<g stroke="#000" stroke-width="4.2" shape-rendering="auto"><line x1="793.2" y1="1355.5" x2="819.8" y2="1310.5"/><line x1="823.6" y1="1355.5" x2="850.2" y2="1310.5"/></g>
<line x1="954.5" y1="110.5" x2="1053.5" y2="110.5" stroke="#0077B6" stroke-width="7" stroke-linecap="round" shape-rendering="auto"/>
<g fill="#0077B6"><path d="M992.20 98.00L1015.20 98.00L1015.20 121.90L992.20 121.90z"/></g>
<line x1="954.5" y1="172.6" x2="1053.5" y2="172.6" stroke="#FF8F40" stroke-width="7" stroke-linecap="round" shape-rendering="auto"/>
<g fill="#FF8F40"><path d="M1002.25 155.00L1005.15 155.00L1019.25 179.15L1019.25 181.95L988.15 181.95L988.15 179.15z"/></g>
<line x1="954.5" y1="235.5" x2="1053.5" y2="235.5" stroke="#FF9896" stroke-width="7" stroke-linecap="round" shape-rendering="auto"/>
<g fill="#FF9896"><path d="M988.15 226.00L1019.25 226.00L1019.25 230.00L1004.70 254.10L1002.70 254.10L988.15 230.00z"/></g>
<line x1="954.5" y1="298.5" x2="1053.5" y2="298.5" stroke="#DBDB8D" stroke-width="7" stroke-linecap="round" shape-rendering="auto"/>
<g fill="#DBDB8D"><ellipse cx="1003.7" cy="298.0" rx="13" ry="13"/></g>
<line x1="954.5" y1="360.5" x2="1053.5" y2="360.5" stroke="#D49C94" stroke-width="7" stroke-linecap="round" shape-rendering="auto"/>
<g fill="#D49C94"><path d="M1002.30 346.00L1005.10 346.00L1016.70 353.20L1016.70 368.90L1004.70 376.05L1002.70 376.05L990.70 368.90L990.70 353.20z"/></g>
<g fill="#000" style="font-kerning:none;font-variant-ligatures:none;text-rendering:geometricPrecision">
<text transform="matrix(1.0003 0 0 0.9878 172.80 62.30)" font-size="58" font-weight="bold" stroke="#000" stroke-width="0.3" stroke-linejoin="round">Vertical displacement of surrounding surface</text>
<text transform="matrix(0.9519 0 0 1.0179 1313.01 61.68)" font-size="58" font-weight="bold" font-style="italic" stroke="#000" stroke-width="0.3" stroke-linejoin="round">V</text>
<text transform="matrix(1.1525 0 0 0.9946 1346.14 77.80)" font-size="39" font-weight="bold" font-style="italic" stroke="#000" stroke-width="0.3" stroke-linejoin="round">r</text>
<text transform="matrix(0.9371 0 0 1.0385 1363.00 62.22)" font-size="58" font-weight="bold" stroke="#000" stroke-width="0.3" stroke-linejoin="round">/</text>
<text transform="matrix(0.9950 0 0 0.9915 1377.71 62.41)" font-size="58" font-weight="bold" stroke="#000" stroke-width="0.3" stroke-linejoin="round">(mm)</text>
<text transform="matrix(0.9983 0 0 0.9683 411.15 1470.70)" font-size="58" font-weight="bold" stroke="#000" stroke-width="0.3" stroke-linejoin="round">Location of monitoring point</text>
<text transform="matrix(0.9945 0 0 1.0265 1142.30 1471.43)" font-size="58" font-weight="bold" font-style="italic" stroke="#000" stroke-width="0.3" stroke-linejoin="round">a</text>
<text transform="matrix(0.9543 0 0 1.0410 1171.92 1470.82)" font-size="58" font-weight="bold" stroke="#000" stroke-width="0.3" stroke-linejoin="round">/</text>
<text transform="matrix(0.9587 0 0 1.0073 1187.76 1470.90)" font-size="58" font-weight="bold" stroke="#000" stroke-width="0.3" stroke-linejoin="round">m</text>
<text transform="matrix(0.9971 0 0 1.0064 18.11 1403.85)" font-size="58" font-weight="bold" stroke="#000" stroke-width="0.3" stroke-linejoin="round">-294</text>
<text transform="matrix(0.9893 0 0 1.0064 125.62 1403.85)" font-size="58" font-weight="bold" stroke="#000" stroke-width="0.3" stroke-linejoin="round">-273</text>
<text transform="matrix(0.9873 0 0 1.0064 233.33 1403.85)" font-size="58" font-weight="bold" stroke="#000" stroke-width="0.3" stroke-linejoin="round">-252</text>
<text transform="matrix(1.0020 0 0 1.0064 340.30 1403.85)" font-size="58" font-weight="bold" stroke="#000" stroke-width="0.3" stroke-linejoin="round">-231</text>
<text transform="matrix(0.9976 0 0 1.0000 448.30 1403.85)" font-size="58" font-weight="bold" stroke="#000" stroke-width="0.3" stroke-linejoin="round">-210</text>
<text transform="matrix(1.0093 0 0 1.0000 555.28 1403.85)" font-size="58" font-weight="bold" stroke="#000" stroke-width="0.3" stroke-linejoin="round">-189</text>
<text transform="matrix(1.0068 0 0 1.0000 662.29 1403.85)" font-size="58" font-weight="bold" stroke="#000" stroke-width="0.3" stroke-linejoin="round">-168</text>
<text transform="matrix(0.9882 0 0 1.0000 885.75 1403.85)" font-size="58" font-weight="bold" stroke="#000" stroke-width="0.3" stroke-linejoin="round">168</text>
<text transform="matrix(1.0000 0 0 1.0000 992.70 1403.85)" font-size="58" font-weight="bold" stroke="#000" stroke-width="0.3" stroke-linejoin="round">189</text>
<text transform="matrix(1.0042 0 0 1.0000 1098.84 1403.85)" font-size="58" font-weight="bold" stroke="#000" stroke-width="0.3" stroke-linejoin="round">210</text>
<text transform="matrix(0.9866 0 0 1.0064 1206.38 1403.85)" font-size="58" font-weight="bold" stroke="#000" stroke-width="0.3" stroke-linejoin="round">231</text>
<text transform="matrix(0.9976 0 0 1.0064 1313.66 1403.85)" font-size="58" font-weight="bold" stroke="#000" stroke-width="0.3" stroke-linejoin="round">252</text>
<text transform="matrix(0.9916 0 0 1.0064 1420.17 1403.85)" font-size="58" font-weight="bold" stroke="#000" stroke-width="0.3" stroke-linejoin="round">273</text>
<text transform="matrix(0.9767 0 0 1.0064 1528.90 1403.85)" font-size="58" font-weight="bold" stroke="#000" stroke-width="0.3" stroke-linejoin="round">294</text>
<text transform="matrix(1.0270 0 0 1.0089 797.69 122.04)" font-size="58" font-weight="bold" stroke="#000" stroke-width="0.3" stroke-linejoin="round">25</text>
<text transform="matrix(1.0288 0 0 1.0127 796.39 375.24)" font-size="58" font-weight="bold" stroke="#000" stroke-width="0.3" stroke-linejoin="round">20</text>
<text transform="matrix(0.9922 0 0 1.0318 800.53 621.43)" font-size="58" font-weight="bold" stroke="#000" stroke-width="0.3" stroke-linejoin="round">15</text>
<text transform="matrix(0.9903 0 0 1.0177 801.54 881.24)" font-size="58" font-weight="bold" stroke="#000" stroke-width="0.3" stroke-linejoin="round">10</text>
<text transform="matrix(1.0182 0 0 1.0090 810.71 1136.24)" font-size="58" font-weight="bold" stroke="#000" stroke-width="0.3" stroke-linejoin="round">5</text>
<text transform="matrix(1.0080 0 0 0.9772 812.68 1383.87)" font-size="58" font-weight="bold" stroke="#000" stroke-width="0.3" stroke-linejoin="round">0</text>
<text transform="matrix(1.0000 0 0 0.9826 1079.25 129.00)" font-size="49" font-weight="bold" stroke="#000" stroke-width="0.3" stroke-linejoin="round">Excavation depth of 10m</text>
<text transform="matrix(1.0000 0 0 0.9826 1079.25 191.50)" font-size="49" font-weight="bold" stroke="#000" stroke-width="0.3" stroke-linejoin="round">Excavation depth of 20m</text>
<text transform="matrix(1.0000 0 0 0.9826 1079.25 254.00)" font-size="49" font-weight="bold" stroke="#000" stroke-width="0.3" stroke-linejoin="round">Excavation depth of 30m</text>
<text transform="matrix(1.0000 0 0 0.9826 1079.25 316.50)" font-size="49" font-weight="bold" stroke="#000" stroke-width="0.3" stroke-linejoin="round">Excavation depth of 40m</text>
<text transform="matrix(1.0000 0 0 0.9826 1079.25 379.00)" font-size="49" font-weight="bold" stroke="#000" stroke-width="0.3" stroke-linejoin="round">Excavation depth of 50m</text>
</g>
</svg>
</body></html>
